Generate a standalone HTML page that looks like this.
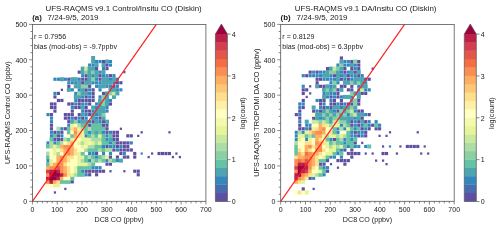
<!DOCTYPE html>
<html><head><meta charset="utf-8"><style>
html,body{margin:0;padding:0;background:#fff;}
svg{display:block;}
text{font-family:"Liberation Sans",sans-serif;fill:#1a1a1a;}
svg{will-change:transform;}
.tt{font-size:7.9px;}
.tl{font-size:7.0px;}
.an{font-size:7.1px;}
.at{font-size:7.15px;}
</style></head><body>
<svg width="500" height="229" viewBox="0 0 500 229">
<rect width="500" height="229" fill="#fff"/>
<g><rect x="46.03" y="183.36" width="3.97" height="4.04" fill="#ffffbf"/><rect x="46.03" y="179.82" width="3.97" height="4.04" fill="#f98e52"/><rect x="46.03" y="176.28" width="3.97" height="4.04" fill="#ba2048"/><rect x="46.03" y="172.75" width="3.97" height="4.04" fill="#f98e52"/><rect x="46.03" y="169.21" width="3.97" height="4.04" fill="#d53e4f"/><rect x="46.03" y="165.67" width="3.97" height="4.04" fill="#fdae61"/><rect x="46.03" y="162.13" width="3.97" height="4.04" fill="#66c2a5"/><rect x="46.45" y="159.02" width="3.12" height="3.18" fill="#3288bd"/><rect x="46.03" y="155.06" width="3.97" height="4.04" fill="#66c2a5"/><rect x="46.03" y="151.52" width="3.97" height="4.04" fill="#abdda4"/><rect x="46.03" y="144.44" width="3.97" height="4.04" fill="#66c2a5"/><rect x="46.45" y="141.33" width="3.12" height="3.18" fill="#3288bd"/><rect x="46.45" y="113.03" width="3.12" height="3.18" fill="#3288bd"/><rect x="49.50" y="183.36" width="3.97" height="4.04" fill="#ffffbf"/><rect x="49.50" y="179.82" width="3.97" height="4.04" fill="#ba2048"/><rect x="49.50" y="176.28" width="3.97" height="4.04" fill="#9e0142"/><rect x="49.50" y="172.75" width="3.97" height="4.04" fill="#9e0142"/><rect x="49.50" y="169.21" width="3.97" height="4.04" fill="#ba2048"/><rect x="49.50" y="165.67" width="3.97" height="4.04" fill="#f98e52"/><rect x="49.50" y="162.13" width="3.97" height="4.04" fill="#fee08b"/><rect x="49.50" y="158.59" width="3.97" height="4.04" fill="#e6f598"/><rect x="49.50" y="155.06" width="3.97" height="4.04" fill="#ffffbf"/><rect x="49.50" y="151.52" width="3.97" height="4.04" fill="#ffffbf"/><rect x="49.50" y="147.98" width="3.97" height="4.04" fill="#ffffbf"/><rect x="49.50" y="144.44" width="3.97" height="4.04" fill="#abdda4"/><rect x="49.50" y="140.90" width="3.97" height="4.04" fill="#abdda4"/><rect x="49.50" y="137.37" width="3.97" height="4.04" fill="#66c2a5"/><rect x="49.92" y="134.25" width="3.12" height="3.18" fill="#3288bd"/><rect x="49.92" y="130.72" width="3.12" height="3.18" fill="#3288bd"/><rect x="49.92" y="127.18" width="3.12" height="3.18" fill="#5e4fa2"/><rect x="49.92" y="123.64" width="3.12" height="3.18" fill="#5e4fa2"/><rect x="49.92" y="120.10" width="3.12" height="3.18" fill="#3288bd"/><rect x="49.92" y="116.56" width="3.12" height="3.18" fill="#3288bd"/><rect x="49.92" y="113.03" width="3.12" height="3.18" fill="#5e4fa2"/><rect x="49.92" y="105.95" width="3.12" height="3.18" fill="#5e4fa2"/><rect x="49.92" y="102.41" width="3.12" height="3.18" fill="#5e4fa2"/><rect x="53.85" y="191.31" width="2.20" height="2.30" fill="#5e4fa2"/><rect x="52.97" y="183.36" width="3.97" height="4.04" fill="#e6f598"/><rect x="52.97" y="179.82" width="3.97" height="4.04" fill="#fdae61"/><rect x="52.97" y="176.28" width="3.97" height="4.04" fill="#9e0142"/><rect x="52.97" y="172.75" width="3.97" height="4.04" fill="#9e0142"/><rect x="52.97" y="169.21" width="3.97" height="4.04" fill="#9e0142"/><rect x="52.97" y="165.67" width="3.97" height="4.04" fill="#f98e52"/><rect x="52.97" y="162.13" width="3.97" height="4.04" fill="#fdae61"/><rect x="52.97" y="158.59" width="3.97" height="4.04" fill="#ffffbf"/><rect x="52.97" y="155.06" width="3.97" height="4.04" fill="#ffffbf"/><rect x="52.97" y="151.52" width="3.97" height="4.04" fill="#e6f598"/><rect x="52.97" y="147.98" width="3.97" height="4.04" fill="#e6f598"/><rect x="52.97" y="144.44" width="3.97" height="4.04" fill="#e6f598"/><rect x="53.39" y="141.33" width="3.12" height="3.18" fill="#3288bd"/><rect x="53.39" y="137.79" width="3.12" height="3.18" fill="#5e4fa2"/><rect x="52.97" y="133.83" width="3.97" height="4.04" fill="#66c2a5"/><rect x="53.39" y="130.72" width="3.12" height="3.18" fill="#5e4fa2"/><rect x="53.39" y="109.49" width="3.12" height="3.18" fill="#5e4fa2"/><rect x="53.39" y="105.95" width="3.12" height="3.18" fill="#5e4fa2"/><rect x="53.39" y="102.41" width="3.12" height="3.18" fill="#5e4fa2"/><rect x="53.39" y="95.34" width="3.12" height="3.18" fill="#5e4fa2"/><rect x="53.39" y="91.80" width="3.12" height="3.18" fill="#3288bd"/><rect x="53.39" y="77.65" width="3.12" height="3.18" fill="#3288bd"/><rect x="56.44" y="183.36" width="3.97" height="4.04" fill="#e6f598"/><rect x="56.44" y="179.82" width="3.97" height="4.04" fill="#fee08b"/><rect x="56.44" y="176.28" width="3.97" height="4.04" fill="#ba2048"/><rect x="56.44" y="172.75" width="3.97" height="4.04" fill="#9e0142"/><rect x="56.44" y="169.21" width="3.97" height="4.04" fill="#ba2048"/><rect x="56.44" y="165.67" width="3.97" height="4.04" fill="#e45649"/><rect x="56.44" y="162.13" width="3.97" height="4.04" fill="#f98e52"/><rect x="56.44" y="158.59" width="3.97" height="4.04" fill="#fdae61"/><rect x="56.44" y="155.06" width="3.97" height="4.04" fill="#fdae61"/><rect x="56.44" y="151.52" width="3.97" height="4.04" fill="#abdda4"/><rect x="56.44" y="147.98" width="3.97" height="4.04" fill="#ffffbf"/><rect x="56.44" y="144.44" width="3.97" height="4.04" fill="#abdda4"/><rect x="56.44" y="140.90" width="3.97" height="4.04" fill="#66c2a5"/><rect x="56.86" y="137.79" width="3.12" height="3.18" fill="#5e4fa2"/><rect x="56.86" y="134.25" width="3.12" height="3.18" fill="#5e4fa2"/><rect x="56.86" y="130.72" width="3.12" height="3.18" fill="#3288bd"/><rect x="56.44" y="126.75" width="3.97" height="4.04" fill="#abdda4"/><rect x="56.86" y="98.87" width="3.12" height="3.18" fill="#5e4fa2"/><rect x="56.86" y="91.80" width="3.12" height="3.18" fill="#5e4fa2"/><rect x="56.86" y="77.65" width="3.12" height="3.18" fill="#3288bd"/><rect x="59.91" y="179.82" width="3.97" height="4.04" fill="#66c2a5"/><rect x="59.91" y="176.28" width="3.97" height="4.04" fill="#fdae61"/><rect x="59.91" y="172.75" width="3.97" height="4.04" fill="#ba2048"/><rect x="59.91" y="169.21" width="3.97" height="4.04" fill="#f98e52"/><rect x="59.91" y="165.67" width="3.97" height="4.04" fill="#f98e52"/><rect x="59.91" y="162.13" width="3.97" height="4.04" fill="#f98e52"/><rect x="59.91" y="158.59" width="3.97" height="4.04" fill="#f98e52"/><rect x="59.91" y="155.06" width="3.97" height="4.04" fill="#f98e52"/><rect x="59.91" y="151.52" width="3.97" height="4.04" fill="#ffffbf"/><rect x="59.91" y="147.98" width="3.97" height="4.04" fill="#fee08b"/><rect x="59.91" y="144.44" width="3.97" height="4.04" fill="#fdae61"/><rect x="59.91" y="140.90" width="3.97" height="4.04" fill="#abdda4"/><rect x="60.33" y="137.79" width="3.12" height="3.18" fill="#5e4fa2"/><rect x="60.33" y="134.25" width="3.12" height="3.18" fill="#3288bd"/><rect x="60.33" y="130.72" width="3.12" height="3.18" fill="#5e4fa2"/><rect x="60.33" y="127.18" width="3.12" height="3.18" fill="#3288bd"/><rect x="60.33" y="98.87" width="3.12" height="3.18" fill="#5e4fa2"/><rect x="60.79" y="88.70" width="2.20" height="2.30" fill="#5e4fa2"/><rect x="59.91" y="77.22" width="3.97" height="4.04" fill="#4ca5b1"/><rect x="64.27" y="187.77" width="2.20" height="2.30" fill="#5e4fa2"/><rect x="63.38" y="179.82" width="3.97" height="4.04" fill="#66c2a5"/><rect x="63.38" y="176.28" width="3.97" height="4.04" fill="#ffffbf"/><rect x="63.38" y="172.75" width="3.97" height="4.04" fill="#f98e52"/><rect x="63.38" y="169.21" width="3.97" height="4.04" fill="#fdae61"/><rect x="63.38" y="165.67" width="3.97" height="4.04" fill="#fdae61"/><rect x="63.38" y="162.13" width="3.97" height="4.04" fill="#fee08b"/><rect x="63.38" y="158.59" width="3.97" height="4.04" fill="#fdae61"/><rect x="63.38" y="155.06" width="3.97" height="4.04" fill="#fdae61"/><rect x="63.38" y="151.52" width="3.97" height="4.04" fill="#fdae61"/><rect x="63.38" y="147.98" width="3.97" height="4.04" fill="#fdae61"/><rect x="63.38" y="144.44" width="3.97" height="4.04" fill="#f98e52"/><rect x="63.38" y="140.90" width="3.97" height="4.04" fill="#ffffbf"/><rect x="63.38" y="137.37" width="3.97" height="4.04" fill="#abdda4"/><rect x="63.80" y="127.18" width="3.12" height="3.18" fill="#5e4fa2"/><rect x="63.80" y="116.56" width="3.12" height="3.18" fill="#5e4fa2"/><rect x="63.80" y="113.03" width="3.12" height="3.18" fill="#5e4fa2"/><rect x="63.80" y="77.65" width="3.12" height="3.18" fill="#3288bd"/><rect x="66.85" y="179.82" width="3.97" height="4.04" fill="#66c2a5"/><rect x="66.85" y="176.28" width="3.97" height="4.04" fill="#ffffbf"/><rect x="66.85" y="172.75" width="3.97" height="4.04" fill="#fee08b"/><rect x="66.85" y="169.21" width="3.97" height="4.04" fill="#fee08b"/><rect x="66.85" y="165.67" width="3.97" height="4.04" fill="#fee08b"/><rect x="66.85" y="162.13" width="3.97" height="4.04" fill="#ffffbf"/><rect x="66.85" y="158.59" width="3.97" height="4.04" fill="#fee08b"/><rect x="66.85" y="155.06" width="3.97" height="4.04" fill="#fee08b"/><rect x="66.85" y="151.52" width="3.97" height="4.04" fill="#f98e52"/><rect x="66.85" y="147.98" width="3.97" height="4.04" fill="#f98e52"/><rect x="66.85" y="144.44" width="3.97" height="4.04" fill="#f98e52"/><rect x="66.85" y="140.90" width="3.97" height="4.04" fill="#fee08b"/><rect x="66.85" y="137.37" width="3.97" height="4.04" fill="#66c2a5"/><rect x="66.85" y="133.83" width="3.97" height="4.04" fill="#ffffbf"/><rect x="66.85" y="130.29" width="3.97" height="4.04" fill="#66c2a5"/><rect x="66.85" y="126.75" width="3.97" height="4.04" fill="#66c2a5"/><rect x="67.27" y="123.64" width="3.12" height="3.18" fill="#3288bd"/><rect x="67.27" y="120.10" width="3.12" height="3.18" fill="#5e4fa2"/><rect x="67.27" y="116.56" width="3.12" height="3.18" fill="#5e4fa2"/><rect x="67.27" y="113.03" width="3.12" height="3.18" fill="#5e4fa2"/><rect x="67.27" y="102.41" width="3.12" height="3.18" fill="#5e4fa2"/><rect x="66.85" y="87.83" width="3.97" height="4.04" fill="#4ca5b1"/><rect x="67.27" y="84.72" width="3.12" height="3.18" fill="#5e4fa2"/><rect x="67.27" y="81.18" width="3.12" height="3.18" fill="#3288bd"/><rect x="67.27" y="77.65" width="3.12" height="3.18" fill="#5e4fa2"/><rect x="70.74" y="180.25" width="3.12" height="3.18" fill="#5e4fa2"/><rect x="70.32" y="176.28" width="3.97" height="4.04" fill="#66c2a5"/><rect x="70.32" y="172.75" width="3.97" height="4.04" fill="#e6f598"/><rect x="70.32" y="169.21" width="3.97" height="4.04" fill="#ffffbf"/><rect x="70.32" y="165.67" width="3.97" height="4.04" fill="#ffffbf"/><rect x="70.32" y="162.13" width="3.97" height="4.04" fill="#ffffbf"/><rect x="70.32" y="158.59" width="3.97" height="4.04" fill="#ffffbf"/><rect x="70.32" y="155.06" width="3.97" height="4.04" fill="#fee08b"/><rect x="70.32" y="151.52" width="3.97" height="4.04" fill="#fdae61"/><rect x="70.32" y="147.98" width="3.97" height="4.04" fill="#fdae61"/><rect x="70.32" y="144.44" width="3.97" height="4.04" fill="#fdae61"/><rect x="70.32" y="140.90" width="3.97" height="4.04" fill="#fdae61"/><rect x="70.32" y="137.37" width="3.97" height="4.04" fill="#e6f598"/><rect x="70.32" y="133.83" width="3.97" height="4.04" fill="#66c2a5"/><rect x="70.32" y="130.29" width="3.97" height="4.04" fill="#ffffbf"/><rect x="70.32" y="126.75" width="3.97" height="4.04" fill="#fee08b"/><rect x="70.32" y="123.21" width="3.97" height="4.04" fill="#e6f598"/><rect x="70.32" y="119.68" width="3.97" height="4.04" fill="#4ca5b1"/><rect x="70.74" y="116.56" width="3.12" height="3.18" fill="#3288bd"/><rect x="70.74" y="113.03" width="3.12" height="3.18" fill="#5e4fa2"/><rect x="70.74" y="109.49" width="3.12" height="3.18" fill="#5e4fa2"/><rect x="70.74" y="105.95" width="3.12" height="3.18" fill="#3288bd"/><rect x="70.74" y="102.41" width="3.12" height="3.18" fill="#5e4fa2"/><rect x="70.74" y="88.26" width="3.12" height="3.18" fill="#3288bd"/><rect x="70.74" y="81.18" width="3.12" height="3.18" fill="#3288bd"/><rect x="70.32" y="77.22" width="3.97" height="4.04" fill="#4ca5b1"/><rect x="73.79" y="172.75" width="3.97" height="4.04" fill="#abdda4"/><rect x="73.79" y="169.21" width="3.97" height="4.04" fill="#e6f598"/><rect x="73.79" y="165.67" width="3.97" height="4.04" fill="#e6f598"/><rect x="73.79" y="162.13" width="3.97" height="4.04" fill="#ffffbf"/><rect x="73.79" y="158.59" width="3.97" height="4.04" fill="#ffffbf"/><rect x="73.79" y="155.06" width="3.97" height="4.04" fill="#ffffbf"/><rect x="73.79" y="151.52" width="3.97" height="4.04" fill="#fee08b"/><rect x="73.79" y="147.98" width="3.97" height="4.04" fill="#fee08b"/><rect x="73.79" y="144.44" width="3.97" height="4.04" fill="#ffffbf"/><rect x="73.79" y="140.90" width="3.97" height="4.04" fill="#ffffbf"/><rect x="73.79" y="137.37" width="3.97" height="4.04" fill="#fee08b"/><rect x="73.79" y="133.83" width="3.97" height="4.04" fill="#fdae61"/><rect x="73.79" y="130.29" width="3.97" height="4.04" fill="#f98e52"/><rect x="73.79" y="126.75" width="3.97" height="4.04" fill="#fdae61"/><rect x="73.79" y="123.21" width="3.97" height="4.04" fill="#ffffbf"/><rect x="73.79" y="119.68" width="3.97" height="4.04" fill="#89d0a4"/><rect x="74.21" y="116.56" width="3.12" height="3.18" fill="#5e4fa2"/><rect x="74.21" y="105.95" width="3.12" height="3.18" fill="#5e4fa2"/><rect x="74.21" y="102.41" width="3.12" height="3.18" fill="#3288bd"/><rect x="74.21" y="98.87" width="3.12" height="3.18" fill="#3288bd"/><rect x="73.79" y="94.91" width="3.97" height="4.04" fill="#4ca5b1"/><rect x="74.21" y="91.80" width="3.12" height="3.18" fill="#3288bd"/><rect x="73.79" y="84.30" width="3.97" height="4.04" fill="#4ca5b1"/><rect x="74.21" y="81.18" width="3.12" height="3.18" fill="#3288bd"/><rect x="73.79" y="77.22" width="3.97" height="4.04" fill="#4ca5b1"/><rect x="77.26" y="172.75" width="3.97" height="4.04" fill="#66c2a5"/><rect x="77.26" y="169.21" width="3.97" height="4.04" fill="#66c2a5"/><rect x="77.26" y="165.67" width="3.97" height="4.04" fill="#66c2a5"/><rect x="77.26" y="162.13" width="3.97" height="4.04" fill="#e6f598"/><rect x="77.26" y="158.59" width="3.97" height="4.04" fill="#e6f598"/><rect x="77.26" y="155.06" width="3.97" height="4.04" fill="#e6f598"/><rect x="77.26" y="151.52" width="3.97" height="4.04" fill="#e6f598"/><rect x="77.26" y="147.98" width="3.97" height="4.04" fill="#ffffbf"/><rect x="77.26" y="144.44" width="3.97" height="4.04" fill="#ffffbf"/><rect x="77.26" y="140.90" width="3.97" height="4.04" fill="#e6f598"/><rect x="77.26" y="137.37" width="3.97" height="4.04" fill="#ffffbf"/><rect x="77.26" y="133.83" width="3.97" height="4.04" fill="#fee08b"/><rect x="77.26" y="130.29" width="3.97" height="4.04" fill="#fee08b"/><rect x="77.26" y="126.75" width="3.97" height="4.04" fill="#e6f598"/><rect x="77.26" y="123.21" width="3.97" height="4.04" fill="#abdda4"/><rect x="77.68" y="120.10" width="3.12" height="3.18" fill="#3288bd"/><rect x="77.68" y="116.56" width="3.12" height="3.18" fill="#3288bd"/><rect x="77.68" y="113.03" width="3.12" height="3.18" fill="#5e4fa2"/><rect x="77.68" y="105.95" width="3.12" height="3.18" fill="#5e4fa2"/><rect x="77.68" y="102.41" width="3.12" height="3.18" fill="#5e4fa2"/><rect x="77.68" y="98.87" width="3.12" height="3.18" fill="#5e4fa2"/><rect x="77.26" y="94.91" width="3.97" height="4.04" fill="#4ca5b1"/><rect x="77.26" y="91.37" width="3.97" height="4.04" fill="#89d0a4"/><rect x="77.68" y="88.26" width="3.12" height="3.18" fill="#3288bd"/><rect x="77.26" y="84.30" width="3.97" height="4.04" fill="#4ca5b1"/><rect x="77.26" y="80.76" width="3.97" height="4.04" fill="#4ca5b1"/><rect x="77.68" y="77.65" width="3.12" height="3.18" fill="#3288bd"/><rect x="77.68" y="70.57" width="3.12" height="3.18" fill="#5e4fa2"/><rect x="80.73" y="172.75" width="3.97" height="4.04" fill="#66c2a5"/><rect x="81.15" y="169.63" width="3.12" height="3.18" fill="#3288bd"/><rect x="80.73" y="165.67" width="3.97" height="4.04" fill="#66c2a5"/><rect x="80.73" y="162.13" width="3.97" height="4.04" fill="#e6f598"/><rect x="80.73" y="158.59" width="3.97" height="4.04" fill="#abdda4"/><rect x="80.73" y="155.06" width="3.97" height="4.04" fill="#e6f598"/><rect x="80.73" y="151.52" width="3.97" height="4.04" fill="#66c2a5"/><rect x="80.73" y="147.98" width="3.97" height="4.04" fill="#ffffbf"/><rect x="80.73" y="144.44" width="3.97" height="4.04" fill="#e6f598"/><rect x="80.73" y="140.90" width="3.97" height="4.04" fill="#abdda4"/><rect x="80.73" y="137.37" width="3.97" height="4.04" fill="#e6f598"/><rect x="80.73" y="133.83" width="3.97" height="4.04" fill="#e6f598"/><rect x="80.73" y="130.29" width="3.97" height="4.04" fill="#e6f598"/><rect x="80.73" y="126.75" width="3.97" height="4.04" fill="#abdda4"/><rect x="80.73" y="123.21" width="3.97" height="4.04" fill="#66c2a5"/><rect x="80.73" y="119.68" width="3.97" height="4.04" fill="#4ca5b1"/><rect x="81.15" y="116.56" width="3.12" height="3.18" fill="#5e4fa2"/><rect x="80.73" y="112.60" width="3.97" height="4.04" fill="#4ca5b1"/><rect x="81.15" y="109.49" width="3.12" height="3.18" fill="#3288bd"/><rect x="80.73" y="105.52" width="3.97" height="4.04" fill="#4ca5b1"/><rect x="81.15" y="102.41" width="3.12" height="3.18" fill="#3288bd"/><rect x="81.15" y="98.87" width="3.12" height="3.18" fill="#5e4fa2"/><rect x="81.15" y="95.34" width="3.12" height="3.18" fill="#3288bd"/><rect x="80.73" y="91.37" width="3.97" height="4.04" fill="#4ca5b1"/><rect x="80.73" y="87.83" width="3.97" height="4.04" fill="#4ca5b1"/><rect x="80.73" y="84.30" width="3.97" height="4.04" fill="#89d0a4"/><rect x="81.15" y="81.18" width="3.12" height="3.18" fill="#5e4fa2"/><rect x="81.15" y="77.65" width="3.12" height="3.18" fill="#5e4fa2"/><rect x="81.15" y="74.11" width="3.12" height="3.18" fill="#3288bd"/><rect x="80.73" y="70.14" width="3.97" height="4.04" fill="#4ca5b1"/><rect x="80.73" y="66.61" width="3.97" height="4.04" fill="#4ca5b1"/><rect x="84.62" y="173.17" width="3.12" height="3.18" fill="#3288bd"/><rect x="84.62" y="169.63" width="3.12" height="3.18" fill="#5e4fa2"/><rect x="84.20" y="165.67" width="3.97" height="4.04" fill="#66c2a5"/><rect x="84.20" y="162.13" width="3.97" height="4.04" fill="#e6f598"/><rect x="84.20" y="158.59" width="3.97" height="4.04" fill="#66c2a5"/><rect x="84.20" y="155.06" width="3.97" height="4.04" fill="#66c2a5"/><rect x="84.20" y="147.98" width="3.97" height="4.04" fill="#abdda4"/><rect x="84.20" y="144.44" width="3.97" height="4.04" fill="#f3faac"/><rect x="84.20" y="140.90" width="3.97" height="4.04" fill="#e6f598"/><rect x="84.20" y="137.37" width="3.97" height="4.04" fill="#e6f598"/><rect x="84.62" y="134.25" width="3.12" height="3.18" fill="#3288bd"/><rect x="84.20" y="130.29" width="3.97" height="4.04" fill="#66c2a5"/><rect x="84.20" y="126.75" width="3.97" height="4.04" fill="#66c2a5"/><rect x="84.20" y="123.21" width="3.97" height="4.04" fill="#66c2a5"/><rect x="84.20" y="119.68" width="3.97" height="4.04" fill="#4ca5b1"/><rect x="84.62" y="116.56" width="3.12" height="3.18" fill="#3288bd"/><rect x="84.62" y="113.03" width="3.12" height="3.18" fill="#3288bd"/><rect x="84.62" y="109.49" width="3.12" height="3.18" fill="#5e4fa2"/><rect x="84.62" y="105.95" width="3.12" height="3.18" fill="#5e4fa2"/><rect x="84.62" y="102.41" width="3.12" height="3.18" fill="#3288bd"/><rect x="84.62" y="98.87" width="3.12" height="3.18" fill="#5e4fa2"/><rect x="84.62" y="95.34" width="3.12" height="3.18" fill="#5e4fa2"/><rect x="84.20" y="91.37" width="3.97" height="4.04" fill="#4ca5b1"/><rect x="84.62" y="88.26" width="3.12" height="3.18" fill="#5e4fa2"/><rect x="84.20" y="84.30" width="3.97" height="4.04" fill="#89d0a4"/><rect x="84.20" y="80.76" width="3.97" height="4.04" fill="#4ca5b1"/><rect x="84.62" y="77.65" width="3.12" height="3.18" fill="#5e4fa2"/><rect x="84.62" y="74.11" width="3.12" height="3.18" fill="#5e4fa2"/><rect x="84.20" y="70.14" width="3.97" height="4.04" fill="#89d0a4"/><rect x="84.20" y="66.61" width="3.97" height="4.04" fill="#c9e99e"/><rect x="88.09" y="173.17" width="3.12" height="3.18" fill="#5e4fa2"/><rect x="88.09" y="169.63" width="3.12" height="3.18" fill="#5e4fa2"/><rect x="87.67" y="165.67" width="3.97" height="4.04" fill="#66c2a5"/><rect x="87.67" y="162.13" width="3.97" height="4.04" fill="#abdda4"/><rect x="88.09" y="159.02" width="3.12" height="3.18" fill="#3288bd"/><rect x="87.67" y="155.06" width="3.97" height="4.04" fill="#abdda4"/><rect x="88.09" y="151.94" width="3.12" height="3.18" fill="#3288bd"/><rect x="87.67" y="147.98" width="3.97" height="4.04" fill="#66c2a5"/><rect x="87.67" y="144.44" width="3.97" height="4.04" fill="#abdda4"/><rect x="87.67" y="140.90" width="3.97" height="4.04" fill="#f3faac"/><rect x="87.67" y="137.37" width="3.97" height="4.04" fill="#e6f598"/><rect x="87.67" y="133.83" width="3.97" height="4.04" fill="#66c2a5"/><rect x="88.09" y="130.72" width="3.12" height="3.18" fill="#3288bd"/><rect x="87.67" y="126.75" width="3.97" height="4.04" fill="#abdda4"/><rect x="88.09" y="123.64" width="3.12" height="3.18" fill="#5e4fa2"/><rect x="88.09" y="120.10" width="3.12" height="3.18" fill="#3288bd"/><rect x="88.09" y="113.03" width="3.12" height="3.18" fill="#5e4fa2"/><rect x="88.09" y="109.49" width="3.12" height="3.18" fill="#5e4fa2"/><rect x="88.09" y="102.41" width="3.12" height="3.18" fill="#5e4fa2"/><rect x="88.09" y="98.87" width="3.12" height="3.18" fill="#5e4fa2"/><rect x="88.09" y="95.34" width="3.12" height="3.18" fill="#3288bd"/><rect x="88.09" y="91.80" width="3.12" height="3.18" fill="#3288bd"/><rect x="88.09" y="88.26" width="3.12" height="3.18" fill="#3288bd"/><rect x="88.09" y="84.72" width="3.12" height="3.18" fill="#5e4fa2"/><rect x="87.67" y="80.76" width="3.97" height="4.04" fill="#4ca5b1"/><rect x="87.67" y="77.22" width="3.97" height="4.04" fill="#4ca5b1"/><rect x="87.67" y="73.68" width="3.97" height="4.04" fill="#4ca5b1"/><rect x="87.67" y="70.14" width="3.97" height="4.04" fill="#4ca5b1"/><rect x="87.67" y="66.61" width="3.97" height="4.04" fill="#4ca5b1"/><rect x="88.09" y="63.49" width="3.12" height="3.18" fill="#3288bd"/><rect x="91.56" y="169.63" width="3.12" height="3.18" fill="#5e4fa2"/><rect x="91.56" y="166.10" width="3.12" height="3.18" fill="#3288bd"/><rect x="91.14" y="162.13" width="3.97" height="4.04" fill="#66c2a5"/><rect x="91.14" y="158.59" width="3.97" height="4.04" fill="#abdda4"/><rect x="91.14" y="155.06" width="3.97" height="4.04" fill="#66c2a5"/><rect x="91.56" y="151.94" width="3.12" height="3.18" fill="#3288bd"/><rect x="91.14" y="147.98" width="3.97" height="4.04" fill="#66c2a5"/><rect x="91.14" y="144.44" width="3.97" height="4.04" fill="#abdda4"/><rect x="91.14" y="140.90" width="3.97" height="4.04" fill="#e6f598"/><rect x="91.14" y="137.37" width="3.97" height="4.04" fill="#abdda4"/><rect x="91.14" y="133.83" width="3.97" height="4.04" fill="#abdda4"/><rect x="91.14" y="130.29" width="3.97" height="4.04" fill="#66c2a5"/><rect x="91.14" y="126.75" width="3.97" height="4.04" fill="#66c2a5"/><rect x="91.14" y="123.21" width="3.97" height="4.04" fill="#66c2a5"/><rect x="91.56" y="120.10" width="3.12" height="3.18" fill="#5e4fa2"/><rect x="91.14" y="116.14" width="3.97" height="4.04" fill="#4ca5b1"/><rect x="91.14" y="112.60" width="3.97" height="4.04" fill="#4ca5b1"/><rect x="91.56" y="109.49" width="3.12" height="3.18" fill="#3288bd"/><rect x="91.14" y="105.52" width="3.97" height="4.04" fill="#4ca5b1"/><rect x="91.56" y="98.87" width="3.12" height="3.18" fill="#5e4fa2"/><rect x="91.56" y="95.34" width="3.12" height="3.18" fill="#5e4fa2"/><rect x="91.56" y="91.80" width="3.12" height="3.18" fill="#5e4fa2"/><rect x="91.56" y="88.26" width="3.12" height="3.18" fill="#5e4fa2"/><rect x="91.56" y="81.18" width="3.12" height="3.18" fill="#3288bd"/><rect x="91.14" y="77.22" width="3.97" height="4.04" fill="#89d0a4"/><rect x="91.56" y="74.11" width="3.12" height="3.18" fill="#3288bd"/><rect x="91.14" y="70.14" width="3.97" height="4.04" fill="#89d0a4"/><rect x="91.14" y="66.61" width="3.97" height="4.04" fill="#4ca5b1"/><rect x="91.56" y="63.49" width="3.12" height="3.18" fill="#3288bd"/><rect x="91.14" y="59.53" width="3.97" height="4.04" fill="#4ca5b1"/><rect x="91.14" y="55.99" width="3.97" height="4.04" fill="#4ca5b1"/><rect x="95.03" y="173.17" width="3.12" height="3.18" fill="#5e4fa2"/><rect x="95.03" y="169.63" width="3.12" height="3.18" fill="#5e4fa2"/><rect x="95.03" y="166.10" width="3.12" height="3.18" fill="#3288bd"/><rect x="94.61" y="158.59" width="3.97" height="4.04" fill="#66c2a5"/><rect x="95.03" y="155.48" width="3.12" height="3.18" fill="#3288bd"/><rect x="95.03" y="151.94" width="3.12" height="3.18" fill="#5e4fa2"/><rect x="94.61" y="147.98" width="3.97" height="4.04" fill="#66c2a5"/><rect x="94.61" y="144.44" width="3.97" height="4.04" fill="#66c2a5"/><rect x="94.61" y="140.90" width="3.97" height="4.04" fill="#abdda4"/><rect x="94.61" y="137.37" width="3.97" height="4.04" fill="#abdda4"/><rect x="94.61" y="133.83" width="3.97" height="4.04" fill="#66c2a5"/><rect x="94.61" y="130.29" width="3.97" height="4.04" fill="#4ca5b1"/><rect x="94.61" y="126.75" width="3.97" height="4.04" fill="#66c2a5"/><rect x="94.61" y="123.21" width="3.97" height="4.04" fill="#66c2a5"/><rect x="94.61" y="119.68" width="3.97" height="4.04" fill="#4ca5b1"/><rect x="95.03" y="116.56" width="3.12" height="3.18" fill="#3288bd"/><rect x="95.03" y="113.03" width="3.12" height="3.18" fill="#3288bd"/><rect x="94.61" y="109.06" width="3.97" height="4.04" fill="#4ca5b1"/><rect x="95.03" y="105.95" width="3.12" height="3.18" fill="#3288bd"/><rect x="95.03" y="102.41" width="3.12" height="3.18" fill="#3288bd"/><rect x="95.03" y="84.72" width="3.12" height="3.18" fill="#3288bd"/><rect x="95.03" y="81.18" width="3.12" height="3.18" fill="#3288bd"/><rect x="95.03" y="77.65" width="3.12" height="3.18" fill="#3288bd"/><rect x="94.61" y="73.68" width="3.97" height="4.04" fill="#4ca5b1"/><rect x="94.61" y="70.14" width="3.97" height="4.04" fill="#4ca5b1"/><rect x="95.03" y="67.03" width="3.12" height="3.18" fill="#5e4fa2"/><rect x="94.61" y="63.07" width="3.97" height="4.04" fill="#4ca5b1"/><rect x="95.03" y="59.96" width="3.12" height="3.18" fill="#3288bd"/><rect x="98.50" y="169.63" width="3.12" height="3.18" fill="#5e4fa2"/><rect x="98.50" y="166.10" width="3.12" height="3.18" fill="#3288bd"/><rect x="98.08" y="158.59" width="3.97" height="4.04" fill="#abdda4"/><rect x="98.08" y="155.06" width="3.97" height="4.04" fill="#66c2a5"/><rect x="98.08" y="147.98" width="3.97" height="4.04" fill="#abdda4"/><rect x="98.08" y="144.44" width="3.97" height="4.04" fill="#66c2a5"/><rect x="98.08" y="140.90" width="3.97" height="4.04" fill="#e6f598"/><rect x="98.08" y="137.37" width="3.97" height="4.04" fill="#abdda4"/><rect x="98.08" y="133.83" width="3.97" height="4.04" fill="#e6f598"/><rect x="98.08" y="130.29" width="3.97" height="4.04" fill="#66c2a5"/><rect x="98.08" y="126.75" width="3.97" height="4.04" fill="#66c2a5"/><rect x="98.08" y="123.21" width="3.97" height="4.04" fill="#66c2a5"/><rect x="98.50" y="120.10" width="3.12" height="3.18" fill="#3288bd"/><rect x="98.50" y="116.56" width="3.12" height="3.18" fill="#5e4fa2"/><rect x="98.08" y="112.60" width="3.97" height="4.04" fill="#4ca5b1"/><rect x="98.08" y="109.06" width="3.97" height="4.04" fill="#4ca5b1"/><rect x="98.08" y="105.52" width="3.97" height="4.04" fill="#4ca5b1"/><rect x="98.08" y="101.99" width="3.97" height="4.04" fill="#4ca5b1"/><rect x="98.08" y="98.45" width="3.97" height="4.04" fill="#4ca5b1"/><rect x="98.50" y="95.34" width="3.12" height="3.18" fill="#3288bd"/><rect x="98.50" y="88.26" width="3.12" height="3.18" fill="#3288bd"/><rect x="98.08" y="84.30" width="3.97" height="4.04" fill="#4ca5b1"/><rect x="98.50" y="81.18" width="3.12" height="3.18" fill="#3288bd"/><rect x="98.50" y="77.65" width="3.12" height="3.18" fill="#5e4fa2"/><rect x="98.50" y="74.11" width="3.12" height="3.18" fill="#5e4fa2"/><rect x="98.50" y="70.57" width="3.12" height="3.18" fill="#3288bd"/><rect x="98.50" y="59.96" width="3.12" height="3.18" fill="#3288bd"/><rect x="101.97" y="169.63" width="3.12" height="3.18" fill="#5e4fa2"/><rect x="101.55" y="158.59" width="3.97" height="4.04" fill="#66c2a5"/><rect x="101.55" y="155.06" width="3.97" height="4.04" fill="#abdda4"/><rect x="101.97" y="151.94" width="3.12" height="3.18" fill="#3288bd"/><rect x="101.55" y="147.98" width="3.97" height="4.04" fill="#66c2a5"/><rect x="101.97" y="144.87" width="3.12" height="3.18" fill="#3288bd"/><rect x="101.55" y="140.90" width="3.97" height="4.04" fill="#66c2a5"/><rect x="101.55" y="137.37" width="3.97" height="4.04" fill="#66c2a5"/><rect x="101.55" y="133.83" width="3.97" height="4.04" fill="#66c2a5"/><rect x="101.97" y="130.72" width="3.12" height="3.18" fill="#3288bd"/><rect x="101.55" y="126.75" width="3.97" height="4.04" fill="#66c2a5"/><rect x="101.97" y="123.64" width="3.12" height="3.18" fill="#5e4fa2"/><rect x="101.97" y="120.10" width="3.12" height="3.18" fill="#5e4fa2"/><rect x="101.55" y="116.14" width="3.97" height="4.04" fill="#4ca5b1"/><rect x="101.55" y="112.60" width="3.97" height="4.04" fill="#89d0a4"/><rect x="101.55" y="109.06" width="3.97" height="4.04" fill="#4ca5b1"/><rect x="101.55" y="105.52" width="3.97" height="4.04" fill="#4ca5b1"/><rect x="101.55" y="101.99" width="3.97" height="4.04" fill="#89d0a4"/><rect x="101.55" y="98.45" width="3.97" height="4.04" fill="#89d0a4"/><rect x="101.55" y="94.91" width="3.97" height="4.04" fill="#89d0a4"/><rect x="101.97" y="91.80" width="3.12" height="3.18" fill="#5e4fa2"/><rect x="101.55" y="84.30" width="3.97" height="4.04" fill="#4ca5b1"/><rect x="101.55" y="80.76" width="3.97" height="4.04" fill="#4ca5b1"/><rect x="101.55" y="77.22" width="3.97" height="4.04" fill="#4ca5b1"/><rect x="101.97" y="74.11" width="3.12" height="3.18" fill="#3288bd"/><rect x="101.55" y="70.14" width="3.97" height="4.04" fill="#4ca5b1"/><rect x="101.97" y="67.03" width="3.12" height="3.18" fill="#3288bd"/><rect x="101.55" y="63.07" width="3.97" height="4.04" fill="#4ca5b1"/><rect x="101.97" y="59.96" width="3.12" height="3.18" fill="#5e4fa2"/><rect x="105.44" y="162.56" width="3.12" height="3.18" fill="#5e4fa2"/><rect x="105.44" y="159.02" width="3.12" height="3.18" fill="#3288bd"/><rect x="105.02" y="155.06" width="3.97" height="4.04" fill="#e6f598"/><rect x="105.02" y="147.98" width="3.97" height="4.04" fill="#abdda4"/><rect x="105.44" y="144.87" width="3.12" height="3.18" fill="#5e4fa2"/><rect x="105.02" y="140.90" width="3.97" height="4.04" fill="#66c2a5"/><rect x="105.44" y="137.79" width="3.12" height="3.18" fill="#3288bd"/><rect x="105.44" y="134.25" width="3.12" height="3.18" fill="#3288bd"/><rect x="105.44" y="130.72" width="3.12" height="3.18" fill="#5e4fa2"/><rect x="105.44" y="127.18" width="3.12" height="3.18" fill="#5e4fa2"/><rect x="105.44" y="123.64" width="3.12" height="3.18" fill="#5e4fa2"/><rect x="105.02" y="119.68" width="3.97" height="4.04" fill="#4ca5b1"/><rect x="105.44" y="109.49" width="3.12" height="3.18" fill="#3288bd"/><rect x="105.44" y="105.95" width="3.12" height="3.18" fill="#3288bd"/><rect x="105.02" y="101.99" width="3.97" height="4.04" fill="#4ca5b1"/><rect x="105.02" y="98.45" width="3.97" height="4.04" fill="#4ca5b1"/><rect x="105.02" y="94.91" width="3.97" height="4.04" fill="#4ca5b1"/><rect x="105.02" y="91.37" width="3.97" height="4.04" fill="#4ca5b1"/><rect x="105.44" y="84.72" width="3.12" height="3.18" fill="#3288bd"/><rect x="105.02" y="80.76" width="3.97" height="4.04" fill="#4ca5b1"/><rect x="105.02" y="77.22" width="3.97" height="4.04" fill="#4ca5b1"/><rect x="105.44" y="74.11" width="3.12" height="3.18" fill="#3288bd"/><rect x="105.44" y="67.03" width="3.12" height="3.18" fill="#5e4fa2"/><rect x="105.44" y="63.49" width="3.12" height="3.18" fill="#5e4fa2"/><rect x="105.02" y="59.53" width="3.97" height="4.04" fill="#4ca5b1"/><rect x="109.38" y="170.08" width="2.20" height="2.30" fill="#5e4fa2"/><rect x="108.91" y="162.56" width="3.12" height="3.18" fill="#5e4fa2"/><rect x="108.49" y="158.59" width="3.97" height="4.04" fill="#abdda4"/><rect x="108.91" y="155.48" width="3.12" height="3.18" fill="#5e4fa2"/><rect x="108.91" y="151.94" width="3.12" height="3.18" fill="#3288bd"/><rect x="108.49" y="147.98" width="3.97" height="4.04" fill="#abdda4"/><rect x="108.91" y="144.87" width="3.12" height="3.18" fill="#3288bd"/><rect x="108.91" y="141.33" width="3.12" height="3.18" fill="#3288bd"/><rect x="108.49" y="137.37" width="3.97" height="4.04" fill="#4ca5b1"/><rect x="108.49" y="133.83" width="3.97" height="4.04" fill="#66c2a5"/><rect x="108.91" y="130.72" width="3.12" height="3.18" fill="#3288bd"/><rect x="108.91" y="102.41" width="3.12" height="3.18" fill="#5e4fa2"/><rect x="108.91" y="98.87" width="3.12" height="3.18" fill="#3288bd"/><rect x="108.49" y="91.37" width="3.97" height="4.04" fill="#89d0a4"/><rect x="108.49" y="87.83" width="3.97" height="4.04" fill="#4ca5b1"/><rect x="108.91" y="84.72" width="3.12" height="3.18" fill="#3288bd"/><rect x="108.49" y="80.76" width="3.97" height="4.04" fill="#4ca5b1"/><rect x="108.91" y="77.65" width="3.12" height="3.18" fill="#3288bd"/><rect x="108.91" y="74.11" width="3.12" height="3.18" fill="#5e4fa2"/><rect x="108.91" y="63.49" width="3.12" height="3.18" fill="#3288bd"/><rect x="108.91" y="59.96" width="3.12" height="3.18" fill="#3288bd"/><rect x="111.96" y="158.59" width="3.97" height="4.04" fill="#66c2a5"/><rect x="112.38" y="148.41" width="3.12" height="3.18" fill="#5e4fa2"/><rect x="112.38" y="144.87" width="3.12" height="3.18" fill="#3288bd"/><rect x="111.96" y="140.90" width="3.97" height="4.04" fill="#66c2a5"/><rect x="112.38" y="137.79" width="3.12" height="3.18" fill="#5e4fa2"/><rect x="112.38" y="134.25" width="3.12" height="3.18" fill="#5e4fa2"/><rect x="112.38" y="130.72" width="3.12" height="3.18" fill="#5e4fa2"/><rect x="111.96" y="94.91" width="3.97" height="4.04" fill="#4ca5b1"/><rect x="111.96" y="91.37" width="3.97" height="4.04" fill="#c9e99e"/><rect x="111.96" y="87.83" width="3.97" height="4.04" fill="#4ca5b1"/><rect x="112.38" y="84.72" width="3.12" height="3.18" fill="#5e4fa2"/><rect x="112.38" y="81.18" width="3.12" height="3.18" fill="#3288bd"/><rect x="111.96" y="77.22" width="3.97" height="4.04" fill="#4ca5b1"/><rect x="112.38" y="74.11" width="3.12" height="3.18" fill="#3288bd"/><rect x="115.85" y="159.02" width="3.12" height="3.18" fill="#3288bd"/><rect x="115.85" y="155.48" width="3.12" height="3.18" fill="#5e4fa2"/><rect x="115.85" y="148.41" width="3.12" height="3.18" fill="#3288bd"/><rect x="115.85" y="144.87" width="3.12" height="3.18" fill="#5e4fa2"/><rect x="115.85" y="141.33" width="3.12" height="3.18" fill="#5e4fa2"/><rect x="115.85" y="137.79" width="3.12" height="3.18" fill="#5e4fa2"/><rect x="115.85" y="134.25" width="3.12" height="3.18" fill="#5e4fa2"/><rect x="115.85" y="130.72" width="3.12" height="3.18" fill="#5e4fa2"/><rect x="115.43" y="91.37" width="3.97" height="4.04" fill="#4ca5b1"/><rect x="115.85" y="88.26" width="3.12" height="3.18" fill="#3288bd"/><rect x="115.85" y="84.72" width="3.12" height="3.18" fill="#3288bd"/><rect x="115.85" y="81.18" width="3.12" height="3.18" fill="#5e4fa2"/><rect x="115.85" y="77.65" width="3.12" height="3.18" fill="#3288bd"/><rect x="118.90" y="158.59" width="3.97" height="4.04" fill="#4ca5b1"/><rect x="119.32" y="151.94" width="3.12" height="3.18" fill="#5e4fa2"/><rect x="119.32" y="148.41" width="3.12" height="3.18" fill="#5e4fa2"/><rect x="119.32" y="144.87" width="3.12" height="3.18" fill="#3288bd"/><rect x="119.32" y="141.33" width="3.12" height="3.18" fill="#5e4fa2"/><rect x="119.79" y="127.62" width="2.20" height="2.30" fill="#5e4fa2"/><rect x="119.32" y="88.26" width="3.12" height="3.18" fill="#3288bd"/><rect x="119.32" y="81.18" width="3.12" height="3.18" fill="#5e4fa2"/><rect x="123.26" y="170.08" width="2.20" height="2.30" fill="#5e4fa2"/><rect x="122.79" y="155.48" width="3.12" height="3.18" fill="#5e4fa2"/><rect x="122.79" y="151.94" width="3.12" height="3.18" fill="#3288bd"/><rect x="122.79" y="148.41" width="3.12" height="3.18" fill="#5e4fa2"/><rect x="122.79" y="144.87" width="3.12" height="3.18" fill="#5e4fa2"/><rect x="122.79" y="141.33" width="3.12" height="3.18" fill="#5e4fa2"/><rect x="123.26" y="71.01" width="2.20" height="2.30" fill="#5e4fa2"/><rect x="126.26" y="155.48" width="3.12" height="3.18" fill="#5e4fa2"/><rect x="126.26" y="148.41" width="3.12" height="3.18" fill="#5e4fa2"/><rect x="126.26" y="144.87" width="3.12" height="3.18" fill="#5e4fa2"/><rect x="126.26" y="141.33" width="3.12" height="3.18" fill="#5e4fa2"/><rect x="126.26" y="134.25" width="3.12" height="3.18" fill="#5e4fa2"/><rect x="129.73" y="148.41" width="3.12" height="3.18" fill="#5e4fa2"/><rect x="129.73" y="141.33" width="3.12" height="3.18" fill="#3288bd"/><rect x="129.73" y="134.25" width="3.12" height="3.18" fill="#5e4fa2"/><rect x="133.20" y="169.63" width="3.12" height="3.18" fill="#5e4fa2"/><rect x="133.20" y="155.48" width="3.12" height="3.18" fill="#5e4fa2"/><rect x="133.20" y="151.94" width="3.12" height="3.18" fill="#5e4fa2"/><rect x="136.67" y="173.17" width="3.12" height="3.18" fill="#5e4fa2"/><rect x="136.67" y="169.63" width="3.12" height="3.18" fill="#5e4fa2"/><rect x="137.13" y="134.70" width="2.20" height="2.30" fill="#5e4fa2"/><rect x="140.60" y="152.39" width="2.20" height="2.30" fill="#3288bd"/><rect x="140.60" y="131.16" width="2.20" height="2.30" fill="#5e4fa2"/><rect x="147.54" y="155.93" width="2.20" height="2.30" fill="#5e4fa2"/><rect x="151.01" y="152.39" width="2.20" height="2.30" fill="#5e4fa2"/><rect x="157.49" y="151.94" width="3.12" height="3.18" fill="#5e4fa2"/><rect x="160.96" y="151.94" width="3.12" height="3.18" fill="#5e4fa2"/><rect x="164.43" y="151.94" width="3.12" height="3.18" fill="#5e4fa2"/><rect x="167.90" y="151.94" width="3.12" height="3.18" fill="#5e4fa2"/><rect x="168.37" y="131.16" width="2.20" height="2.30" fill="#5e4fa2"/><rect x="171.84" y="155.93" width="2.20" height="2.30" fill="#5e4fa2"/><rect x="175.31" y="152.39" width="2.20" height="2.30" fill="#5e4fa2"/><rect x="178.78" y="155.93" width="2.20" height="2.30" fill="#5e4fa2"/></g>
<line x1="32.40" y1="201.30" x2="156.33" y2="24.40" stroke="#ff1f1f" stroke-width="1.15"/>
<rect x="32.40" y="24.40" width="173.50" height="176.90" fill="none" stroke="#555" stroke-width="0.8"/>
<line x1="32.40" y1="201.30" x2="32.40" y2="204.50" stroke="#555" stroke-width="0.7"/>
<text x="32.40" y="211.9" class="tl" text-anchor="middle">0</text>
<line x1="37.36" y1="201.30" x2="37.36" y2="203.30" stroke="#555" stroke-width="0.7"/>
<line x1="42.31" y1="201.30" x2="42.31" y2="203.30" stroke="#555" stroke-width="0.7"/>
<line x1="47.27" y1="201.30" x2="47.27" y2="203.30" stroke="#555" stroke-width="0.7"/>
<line x1="52.23" y1="201.30" x2="52.23" y2="203.30" stroke="#555" stroke-width="0.7"/>
<line x1="57.19" y1="201.30" x2="57.19" y2="204.50" stroke="#555" stroke-width="0.7"/>
<text x="57.19" y="211.9" class="tl" text-anchor="middle">100</text>
<line x1="62.14" y1="201.30" x2="62.14" y2="203.30" stroke="#555" stroke-width="0.7"/>
<line x1="67.10" y1="201.30" x2="67.10" y2="203.30" stroke="#555" stroke-width="0.7"/>
<line x1="72.06" y1="201.30" x2="72.06" y2="203.30" stroke="#555" stroke-width="0.7"/>
<line x1="77.01" y1="201.30" x2="77.01" y2="203.30" stroke="#555" stroke-width="0.7"/>
<line x1="81.97" y1="201.30" x2="81.97" y2="204.50" stroke="#555" stroke-width="0.7"/>
<text x="81.97" y="211.9" class="tl" text-anchor="middle">200</text>
<line x1="86.93" y1="201.30" x2="86.93" y2="203.30" stroke="#555" stroke-width="0.7"/>
<line x1="91.89" y1="201.30" x2="91.89" y2="203.30" stroke="#555" stroke-width="0.7"/>
<line x1="96.84" y1="201.30" x2="96.84" y2="203.30" stroke="#555" stroke-width="0.7"/>
<line x1="101.80" y1="201.30" x2="101.80" y2="203.30" stroke="#555" stroke-width="0.7"/>
<line x1="106.76" y1="201.30" x2="106.76" y2="204.50" stroke="#555" stroke-width="0.7"/>
<text x="106.76" y="211.9" class="tl" text-anchor="middle">300</text>
<line x1="111.71" y1="201.30" x2="111.71" y2="203.30" stroke="#555" stroke-width="0.7"/>
<line x1="116.67" y1="201.30" x2="116.67" y2="203.30" stroke="#555" stroke-width="0.7"/>
<line x1="121.63" y1="201.30" x2="121.63" y2="203.30" stroke="#555" stroke-width="0.7"/>
<line x1="126.59" y1="201.30" x2="126.59" y2="203.30" stroke="#555" stroke-width="0.7"/>
<line x1="131.54" y1="201.30" x2="131.54" y2="204.50" stroke="#555" stroke-width="0.7"/>
<text x="131.54" y="211.9" class="tl" text-anchor="middle">400</text>
<line x1="136.50" y1="201.30" x2="136.50" y2="203.30" stroke="#555" stroke-width="0.7"/>
<line x1="141.46" y1="201.30" x2="141.46" y2="203.30" stroke="#555" stroke-width="0.7"/>
<line x1="146.41" y1="201.30" x2="146.41" y2="203.30" stroke="#555" stroke-width="0.7"/>
<line x1="151.37" y1="201.30" x2="151.37" y2="203.30" stroke="#555" stroke-width="0.7"/>
<line x1="156.33" y1="201.30" x2="156.33" y2="204.50" stroke="#555" stroke-width="0.7"/>
<text x="156.33" y="211.9" class="tl" text-anchor="middle">500</text>
<line x1="161.29" y1="201.30" x2="161.29" y2="203.30" stroke="#555" stroke-width="0.7"/>
<line x1="166.24" y1="201.30" x2="166.24" y2="203.30" stroke="#555" stroke-width="0.7"/>
<line x1="171.20" y1="201.30" x2="171.20" y2="203.30" stroke="#555" stroke-width="0.7"/>
<line x1="176.16" y1="201.30" x2="176.16" y2="203.30" stroke="#555" stroke-width="0.7"/>
<line x1="181.11" y1="201.30" x2="181.11" y2="204.50" stroke="#555" stroke-width="0.7"/>
<text x="181.11" y="211.9" class="tl" text-anchor="middle">600</text>
<line x1="186.07" y1="201.30" x2="186.07" y2="203.30" stroke="#555" stroke-width="0.7"/>
<line x1="191.03" y1="201.30" x2="191.03" y2="203.30" stroke="#555" stroke-width="0.7"/>
<line x1="195.99" y1="201.30" x2="195.99" y2="203.30" stroke="#555" stroke-width="0.7"/>
<line x1="200.94" y1="201.30" x2="200.94" y2="203.30" stroke="#555" stroke-width="0.7"/>
<line x1="205.90" y1="201.30" x2="205.90" y2="204.50" stroke="#555" stroke-width="0.7"/>
<text x="205.90" y="211.9" class="tl" text-anchor="middle">700</text>
<line x1="32.40" y1="201.30" x2="29.00" y2="201.30" stroke="#555" stroke-width="0.7"/>
<text x="27.10" y="204.10" class="tl" text-anchor="end">0</text>
<line x1="32.40" y1="194.22" x2="30.40" y2="194.22" stroke="#555" stroke-width="0.7"/>
<line x1="32.40" y1="187.15" x2="30.40" y2="187.15" stroke="#555" stroke-width="0.7"/>
<line x1="32.40" y1="180.07" x2="30.40" y2="180.07" stroke="#555" stroke-width="0.7"/>
<line x1="32.40" y1="173.00" x2="30.40" y2="173.00" stroke="#555" stroke-width="0.7"/>
<line x1="32.40" y1="165.92" x2="29.00" y2="165.92" stroke="#555" stroke-width="0.7"/>
<text x="27.10" y="168.72" class="tl" text-anchor="end">100</text>
<line x1="32.40" y1="158.84" x2="30.40" y2="158.84" stroke="#555" stroke-width="0.7"/>
<line x1="32.40" y1="151.77" x2="30.40" y2="151.77" stroke="#555" stroke-width="0.7"/>
<line x1="32.40" y1="144.69" x2="30.40" y2="144.69" stroke="#555" stroke-width="0.7"/>
<line x1="32.40" y1="137.62" x2="30.40" y2="137.62" stroke="#555" stroke-width="0.7"/>
<line x1="32.40" y1="130.54" x2="29.00" y2="130.54" stroke="#555" stroke-width="0.7"/>
<text x="27.10" y="133.34" class="tl" text-anchor="end">200</text>
<line x1="32.40" y1="123.46" x2="30.40" y2="123.46" stroke="#555" stroke-width="0.7"/>
<line x1="32.40" y1="116.39" x2="30.40" y2="116.39" stroke="#555" stroke-width="0.7"/>
<line x1="32.40" y1="109.31" x2="30.40" y2="109.31" stroke="#555" stroke-width="0.7"/>
<line x1="32.40" y1="102.24" x2="30.40" y2="102.24" stroke="#555" stroke-width="0.7"/>
<line x1="32.40" y1="95.16" x2="29.00" y2="95.16" stroke="#555" stroke-width="0.7"/>
<text x="27.10" y="97.96" class="tl" text-anchor="end">300</text>
<line x1="32.40" y1="88.08" x2="30.40" y2="88.08" stroke="#555" stroke-width="0.7"/>
<line x1="32.40" y1="81.01" x2="30.40" y2="81.01" stroke="#555" stroke-width="0.7"/>
<line x1="32.40" y1="73.93" x2="30.40" y2="73.93" stroke="#555" stroke-width="0.7"/>
<line x1="32.40" y1="66.86" x2="30.40" y2="66.86" stroke="#555" stroke-width="0.7"/>
<line x1="32.40" y1="59.78" x2="29.00" y2="59.78" stroke="#555" stroke-width="0.7"/>
<text x="27.10" y="62.58" class="tl" text-anchor="end">400</text>
<line x1="32.40" y1="52.70" x2="30.40" y2="52.70" stroke="#555" stroke-width="0.7"/>
<line x1="32.40" y1="45.63" x2="30.40" y2="45.63" stroke="#555" stroke-width="0.7"/>
<line x1="32.40" y1="38.55" x2="30.40" y2="38.55" stroke="#555" stroke-width="0.7"/>
<line x1="32.40" y1="31.48" x2="30.40" y2="31.48" stroke="#555" stroke-width="0.7"/>
<line x1="32.40" y1="24.40" x2="29.00" y2="24.40" stroke="#555" stroke-width="0.7"/>
<text x="27.10" y="27.20" class="tl" text-anchor="end">500</text>
<text x="45.60" y="11" class="tt">UFS-RAQMS v9.1 Control/Insitu CO (Diskin)</text>
<text x="32.20" y="19.9" class="tt" font-weight="bold">(a)</text>
<text x="47.60" y="19.9" class="tt">7/24-9/5, 2019</text>
<text x="34.00" y="38.6" class="an">r = 0.7956</text>
<text x="34.00" y="48.6" class="an">bias (mod-obs) = -9.7ppbv</text>
<text x="119.15" y="221.9" class="at" text-anchor="middle">DC8 CO (ppbv)</text>
<text transform="translate(10.40,112.7) rotate(-90)" class="at" text-anchor="middle" style="font-size:7.15px">UFS-RAQMS Control CO (ppbv)</text>
<rect x="215.40" y="192.830" width="12.00" height="8.670" fill="#5e4fa2"/>
<rect x="215.40" y="184.460" width="12.00" height="8.670" fill="#486cb0"/>
<rect x="215.40" y="176.090" width="12.00" height="8.670" fill="#3288bd"/>
<rect x="215.40" y="167.720" width="12.00" height="8.670" fill="#4ca5b1"/>
<rect x="215.40" y="159.350" width="12.00" height="8.670" fill="#66c2a5"/>
<rect x="215.40" y="150.980" width="12.00" height="8.670" fill="#89d0a4"/>
<rect x="215.40" y="142.610" width="12.00" height="8.670" fill="#abdda4"/>
<rect x="215.40" y="134.240" width="12.00" height="8.670" fill="#c9e99e"/>
<rect x="215.40" y="125.870" width="12.00" height="8.670" fill="#e6f598"/>
<rect x="215.40" y="117.500" width="12.00" height="8.670" fill="#f3faac"/>
<rect x="215.40" y="109.130" width="12.00" height="8.670" fill="#ffffbf"/>
<rect x="215.40" y="100.760" width="12.00" height="8.670" fill="#fef0a5"/>
<rect x="215.40" y="92.390" width="12.00" height="8.670" fill="#fee08b"/>
<rect x="215.40" y="84.020" width="12.00" height="8.670" fill="#fec776"/>
<rect x="215.40" y="75.650" width="12.00" height="8.670" fill="#fdae61"/>
<rect x="215.40" y="67.280" width="12.00" height="8.670" fill="#f98e52"/>
<rect x="215.40" y="58.910" width="12.00" height="8.670" fill="#f46d43"/>
<rect x="215.40" y="50.540" width="12.00" height="8.670" fill="#e45649"/>
<rect x="215.40" y="42.170" width="12.00" height="8.670" fill="#d53e4f"/>
<rect x="215.40" y="33.800" width="12.00" height="8.670" fill="#ba2048"/>
<polygon points="215.40,34.10 227.40,34.10 221.40,24.00" fill="#9e0142"/>
<polygon points="215.40,201.50 215.40,34.10 221.40,24.00 227.40,34.10 227.40,201.50" fill="none" stroke="#555" stroke-width="0.7"/>
<line x1="227.40" y1="201.50" x2="230.60" y2="201.50" stroke="#555" stroke-width="0.7"/>
<text x="231.80" y="204.30" class="tl">0</text>
<line x1="227.40" y1="159.65" x2="230.60" y2="159.65" stroke="#555" stroke-width="0.7"/>
<text x="231.80" y="162.45" class="tl">1</text>
<line x1="227.40" y1="117.80" x2="230.60" y2="117.80" stroke="#555" stroke-width="0.7"/>
<text x="231.80" y="120.60" class="tl">2</text>
<line x1="227.40" y1="75.95" x2="230.60" y2="75.95" stroke="#555" stroke-width="0.7"/>
<text x="231.80" y="78.75" class="tl">3</text>
<line x1="227.40" y1="34.10" x2="230.60" y2="34.10" stroke="#555" stroke-width="0.7"/>
<text x="231.80" y="36.90" class="tl">4</text>
<text transform="translate(245.20,113.2) rotate(-90)" class="at" text-anchor="middle">log(count)</text>
<g><rect x="294.33" y="190.44" width="3.97" height="4.04" fill="#ffffbf"/><rect x="294.33" y="179.82" width="3.97" height="4.04" fill="#fdae61"/><rect x="294.33" y="176.28" width="3.97" height="4.04" fill="#ba2048"/><rect x="294.33" y="172.75" width="3.97" height="4.04" fill="#ba2048"/><rect x="294.33" y="169.21" width="3.97" height="4.04" fill="#f98e52"/><rect x="294.33" y="165.67" width="3.97" height="4.04" fill="#d53e4f"/><rect x="294.33" y="162.13" width="3.97" height="4.04" fill="#f98e52"/><rect x="294.33" y="158.59" width="3.97" height="4.04" fill="#f98e52"/><rect x="294.33" y="155.06" width="3.97" height="4.04" fill="#fee08b"/><rect x="294.33" y="151.52" width="3.97" height="4.04" fill="#66c2a5"/><rect x="294.33" y="147.98" width="3.97" height="4.04" fill="#66c2a5"/><rect x="294.33" y="144.44" width="3.97" height="4.04" fill="#66c2a5"/><rect x="294.33" y="140.90" width="3.97" height="4.04" fill="#abdda4"/><rect x="294.75" y="137.79" width="3.12" height="3.18" fill="#3288bd"/><rect x="294.75" y="134.25" width="3.12" height="3.18" fill="#3288bd"/><rect x="294.75" y="130.72" width="3.12" height="3.18" fill="#3288bd"/><rect x="294.75" y="113.03" width="3.12" height="3.18" fill="#5e4fa2"/><rect x="297.80" y="190.44" width="3.97" height="4.04" fill="#fee08b"/><rect x="297.80" y="179.82" width="3.97" height="4.04" fill="#fee08b"/><rect x="297.80" y="176.28" width="3.97" height="4.04" fill="#f98e52"/><rect x="297.80" y="172.75" width="3.97" height="4.04" fill="#9e0142"/><rect x="297.80" y="169.21" width="3.97" height="4.04" fill="#9e0142"/><rect x="297.80" y="165.67" width="3.97" height="4.04" fill="#9e0142"/><rect x="297.80" y="162.13" width="3.97" height="4.04" fill="#ba2048"/><rect x="297.80" y="158.59" width="3.97" height="4.04" fill="#f46d43"/><rect x="297.80" y="155.06" width="3.97" height="4.04" fill="#fdae61"/><rect x="297.80" y="151.52" width="3.97" height="4.04" fill="#fdae61"/><rect x="297.80" y="147.98" width="3.97" height="4.04" fill="#fee08b"/><rect x="297.80" y="144.44" width="3.97" height="4.04" fill="#ffffbf"/><rect x="297.80" y="140.90" width="3.97" height="4.04" fill="#ffffbf"/><rect x="297.80" y="137.37" width="3.97" height="4.04" fill="#e6f598"/><rect x="297.80" y="133.83" width="3.97" height="4.04" fill="#e6f598"/><rect x="297.80" y="130.29" width="3.97" height="4.04" fill="#abdda4"/><rect x="298.22" y="127.18" width="3.12" height="3.18" fill="#5e4fa2"/><rect x="298.22" y="123.64" width="3.12" height="3.18" fill="#5e4fa2"/><rect x="298.22" y="120.10" width="3.12" height="3.18" fill="#3288bd"/><rect x="298.22" y="116.56" width="3.12" height="3.18" fill="#5e4fa2"/><rect x="298.22" y="113.03" width="3.12" height="3.18" fill="#3288bd"/><rect x="298.22" y="109.49" width="3.12" height="3.18" fill="#5e4fa2"/><rect x="298.22" y="105.95" width="3.12" height="3.18" fill="#3288bd"/><rect x="298.22" y="102.41" width="3.12" height="3.18" fill="#3288bd"/><rect x="301.27" y="190.44" width="3.97" height="4.04" fill="#ffffbf"/><rect x="301.69" y="187.32" width="3.12" height="3.18" fill="#5e4fa2"/><rect x="301.27" y="179.82" width="3.97" height="4.04" fill="#e6f598"/><rect x="301.27" y="176.28" width="3.97" height="4.04" fill="#fdae61"/><rect x="301.27" y="172.75" width="3.97" height="4.04" fill="#f98e52"/><rect x="301.27" y="169.21" width="3.97" height="4.04" fill="#ba2048"/><rect x="301.27" y="165.67" width="3.97" height="4.04" fill="#9e0142"/><rect x="301.27" y="162.13" width="3.97" height="4.04" fill="#ba2048"/><rect x="301.27" y="158.59" width="3.97" height="4.04" fill="#f98e52"/><rect x="301.27" y="155.06" width="3.97" height="4.04" fill="#fdae61"/><rect x="301.27" y="151.52" width="3.97" height="4.04" fill="#fee08b"/><rect x="301.27" y="147.98" width="3.97" height="4.04" fill="#ffffbf"/><rect x="301.27" y="144.44" width="3.97" height="4.04" fill="#ffffbf"/><rect x="301.27" y="140.90" width="3.97" height="4.04" fill="#ffffbf"/><rect x="301.27" y="137.37" width="3.97" height="4.04" fill="#ffffbf"/><rect x="301.27" y="133.83" width="3.97" height="4.04" fill="#e6f598"/><rect x="301.69" y="130.72" width="3.12" height="3.18" fill="#3288bd"/><rect x="301.69" y="127.18" width="3.12" height="3.18" fill="#5e4fa2"/><rect x="301.69" y="105.95" width="3.12" height="3.18" fill="#5e4fa2"/><rect x="301.69" y="102.41" width="3.12" height="3.18" fill="#3288bd"/><rect x="301.69" y="98.87" width="3.12" height="3.18" fill="#5e4fa2"/><rect x="301.69" y="91.80" width="3.12" height="3.18" fill="#5e4fa2"/><rect x="301.69" y="88.26" width="3.12" height="3.18" fill="#5e4fa2"/><rect x="301.69" y="84.72" width="3.12" height="3.18" fill="#3288bd"/><rect x="301.69" y="74.11" width="3.12" height="3.18" fill="#3288bd"/><rect x="304.74" y="190.44" width="3.97" height="4.04" fill="#e6f598"/><rect x="304.74" y="176.28" width="3.97" height="4.04" fill="#e6f598"/><rect x="304.74" y="172.75" width="3.97" height="4.04" fill="#fdae61"/><rect x="304.74" y="169.21" width="3.97" height="4.04" fill="#d53e4f"/><rect x="304.74" y="165.67" width="3.97" height="4.04" fill="#ba2048"/><rect x="304.74" y="162.13" width="3.97" height="4.04" fill="#d53e4f"/><rect x="304.74" y="158.59" width="3.97" height="4.04" fill="#e45649"/><rect x="304.74" y="155.06" width="3.97" height="4.04" fill="#f98e52"/><rect x="304.74" y="151.52" width="3.97" height="4.04" fill="#f46d43"/><rect x="304.74" y="147.98" width="3.97" height="4.04" fill="#fdae61"/><rect x="304.74" y="144.44" width="3.97" height="4.04" fill="#fdae61"/><rect x="304.74" y="140.90" width="3.97" height="4.04" fill="#fee08b"/><rect x="305.16" y="137.79" width="3.12" height="3.18" fill="#3288bd"/><rect x="304.74" y="133.83" width="3.97" height="4.04" fill="#66c2a5"/><rect x="304.74" y="130.29" width="3.97" height="4.04" fill="#e6f598"/><rect x="305.16" y="127.18" width="3.12" height="3.18" fill="#3288bd"/><rect x="305.16" y="123.64" width="3.12" height="3.18" fill="#3288bd"/><rect x="304.74" y="119.68" width="3.97" height="4.04" fill="#4ca5b1"/><rect x="305.62" y="95.78" width="2.20" height="2.30" fill="#5e4fa2"/><rect x="305.16" y="88.26" width="3.12" height="3.18" fill="#5e4fa2"/><rect x="305.16" y="74.11" width="3.12" height="3.18" fill="#5e4fa2"/><rect x="308.63" y="176.71" width="3.12" height="3.18" fill="#5e4fa2"/><rect x="308.21" y="172.75" width="3.97" height="4.04" fill="#fee08b"/><rect x="308.21" y="169.21" width="3.97" height="4.04" fill="#fdae61"/><rect x="308.21" y="165.67" width="3.97" height="4.04" fill="#f98e52"/><rect x="308.21" y="162.13" width="3.97" height="4.04" fill="#f98e52"/><rect x="308.21" y="158.59" width="3.97" height="4.04" fill="#f98e52"/><rect x="308.21" y="155.06" width="3.97" height="4.04" fill="#f98e52"/><rect x="308.21" y="151.52" width="3.97" height="4.04" fill="#f98e52"/><rect x="308.21" y="147.98" width="3.97" height="4.04" fill="#fee08b"/><rect x="308.21" y="144.44" width="3.97" height="4.04" fill="#f98e52"/><rect x="308.21" y="140.90" width="3.97" height="4.04" fill="#fee08b"/><rect x="308.21" y="137.37" width="3.97" height="4.04" fill="#e6f598"/><rect x="308.21" y="133.83" width="3.97" height="4.04" fill="#abdda4"/><rect x="308.21" y="130.29" width="3.97" height="4.04" fill="#fee08b"/><rect x="308.63" y="127.18" width="3.12" height="3.18" fill="#5e4fa2"/><rect x="308.63" y="123.64" width="3.12" height="3.18" fill="#3288bd"/><rect x="309.09" y="92.24" width="2.20" height="2.30" fill="#5e4fa2"/><rect x="309.09" y="85.17" width="2.20" height="2.30" fill="#5e4fa2"/><rect x="308.63" y="74.11" width="3.12" height="3.18" fill="#3288bd"/><rect x="308.63" y="70.57" width="3.12" height="3.18" fill="#5e4fa2"/><rect x="312.56" y="187.77" width="2.20" height="2.30" fill="#5e4fa2"/><rect x="312.10" y="176.71" width="3.12" height="3.18" fill="#3288bd"/><rect x="311.68" y="172.75" width="3.97" height="4.04" fill="#e6f598"/><rect x="311.68" y="169.21" width="3.97" height="4.04" fill="#ffffbf"/><rect x="311.68" y="165.67" width="3.97" height="4.04" fill="#fee08b"/><rect x="311.68" y="162.13" width="3.97" height="4.04" fill="#fdae61"/><rect x="311.68" y="158.59" width="3.97" height="4.04" fill="#fdae61"/><rect x="311.68" y="155.06" width="3.97" height="4.04" fill="#fdae61"/><rect x="311.68" y="151.52" width="3.97" height="4.04" fill="#fdae61"/><rect x="311.68" y="147.98" width="3.97" height="4.04" fill="#ffffbf"/><rect x="311.68" y="144.44" width="3.97" height="4.04" fill="#fee08b"/><rect x="311.68" y="140.90" width="3.97" height="4.04" fill="#ffffbf"/><rect x="311.68" y="137.37" width="3.97" height="4.04" fill="#ffffbf"/><rect x="311.68" y="133.83" width="3.97" height="4.04" fill="#66c2a5"/><rect x="311.68" y="130.29" width="3.97" height="4.04" fill="#fdae61"/><rect x="311.68" y="126.75" width="3.97" height="4.04" fill="#e6f598"/><rect x="311.68" y="123.21" width="3.97" height="4.04" fill="#ffffbf"/><rect x="311.68" y="119.68" width="3.97" height="4.04" fill="#c9e99e"/><rect x="312.10" y="116.56" width="3.12" height="3.18" fill="#5e4fa2"/><rect x="311.68" y="112.60" width="3.97" height="4.04" fill="#ffffbf"/><rect x="312.10" y="109.49" width="3.12" height="3.18" fill="#5e4fa2"/><rect x="311.68" y="105.52" width="3.97" height="4.04" fill="#4ca5b1"/><rect x="312.10" y="74.11" width="3.12" height="3.18" fill="#3288bd"/><rect x="312.10" y="70.57" width="3.12" height="3.18" fill="#3288bd"/><rect x="315.15" y="172.75" width="3.97" height="4.04" fill="#abdda4"/><rect x="315.15" y="169.21" width="3.97" height="4.04" fill="#ffffbf"/><rect x="315.15" y="165.67" width="3.97" height="4.04" fill="#ffffbf"/><rect x="315.15" y="162.13" width="3.97" height="4.04" fill="#fee08b"/><rect x="315.15" y="158.59" width="3.97" height="4.04" fill="#fee08b"/><rect x="315.15" y="155.06" width="3.97" height="4.04" fill="#fee08b"/><rect x="315.15" y="151.52" width="3.97" height="4.04" fill="#fdae61"/><rect x="315.15" y="147.98" width="3.97" height="4.04" fill="#f98e52"/><rect x="315.15" y="144.44" width="3.97" height="4.04" fill="#fdae61"/><rect x="315.15" y="140.90" width="3.97" height="4.04" fill="#f98e52"/><rect x="315.15" y="137.37" width="3.97" height="4.04" fill="#fdae61"/><rect x="315.15" y="133.83" width="3.97" height="4.04" fill="#fdae61"/><rect x="315.15" y="130.29" width="3.97" height="4.04" fill="#f98e52"/><rect x="315.15" y="126.75" width="3.97" height="4.04" fill="#fee08b"/><rect x="315.15" y="123.21" width="3.97" height="4.04" fill="#ffffbf"/><rect x="315.15" y="119.68" width="3.97" height="4.04" fill="#c9e99e"/><rect x="315.15" y="116.14" width="3.97" height="4.04" fill="#4ca5b1"/><rect x="315.15" y="112.60" width="3.97" height="4.04" fill="#4ca5b1"/><rect x="315.57" y="109.49" width="3.12" height="3.18" fill="#3288bd"/><rect x="315.57" y="98.87" width="3.12" height="3.18" fill="#3288bd"/><rect x="315.15" y="84.30" width="3.97" height="4.04" fill="#4ca5b1"/><rect x="315.57" y="81.18" width="3.12" height="3.18" fill="#5e4fa2"/><rect x="315.57" y="77.65" width="3.12" height="3.18" fill="#5e4fa2"/><rect x="315.57" y="74.11" width="3.12" height="3.18" fill="#3288bd"/><rect x="315.57" y="70.57" width="3.12" height="3.18" fill="#5e4fa2"/><rect x="318.62" y="172.75" width="3.97" height="4.04" fill="#66c2a5"/><rect x="318.62" y="169.21" width="3.97" height="4.04" fill="#e6f598"/><rect x="318.62" y="165.67" width="3.97" height="4.04" fill="#66c2a5"/><rect x="319.04" y="162.56" width="3.12" height="3.18" fill="#5e4fa2"/><rect x="318.62" y="158.59" width="3.97" height="4.04" fill="#66c2a5"/><rect x="318.62" y="155.06" width="3.97" height="4.04" fill="#ffffbf"/><rect x="318.62" y="151.52" width="3.97" height="4.04" fill="#fee08b"/><rect x="318.62" y="147.98" width="3.97" height="4.04" fill="#f98e52"/><rect x="318.62" y="144.44" width="3.97" height="4.04" fill="#f98e52"/><rect x="318.62" y="140.90" width="3.97" height="4.04" fill="#fdae61"/><rect x="318.62" y="137.37" width="3.97" height="4.04" fill="#fee08b"/><rect x="318.62" y="133.83" width="3.97" height="4.04" fill="#fdae61"/><rect x="318.62" y="130.29" width="3.97" height="4.04" fill="#f98e52"/><rect x="318.62" y="126.75" width="3.97" height="4.04" fill="#fdae61"/><rect x="318.62" y="123.21" width="3.97" height="4.04" fill="#fdae61"/><rect x="318.62" y="119.68" width="3.97" height="4.04" fill="#89d0a4"/><rect x="319.04" y="116.56" width="3.12" height="3.18" fill="#3288bd"/><rect x="318.62" y="112.60" width="3.97" height="4.04" fill="#4ca5b1"/><rect x="319.04" y="109.49" width="3.12" height="3.18" fill="#5e4fa2"/><rect x="319.04" y="105.95" width="3.12" height="3.18" fill="#3288bd"/><rect x="319.04" y="102.41" width="3.12" height="3.18" fill="#5e4fa2"/><rect x="319.04" y="98.87" width="3.12" height="3.18" fill="#5e4fa2"/><rect x="319.04" y="84.72" width="3.12" height="3.18" fill="#5e4fa2"/><rect x="319.04" y="77.65" width="3.12" height="3.18" fill="#5e4fa2"/><rect x="319.04" y="74.11" width="3.12" height="3.18" fill="#3288bd"/><rect x="319.04" y="70.57" width="3.12" height="3.18" fill="#3288bd"/><rect x="322.51" y="173.17" width="3.12" height="3.18" fill="#3288bd"/><rect x="322.09" y="169.21" width="3.97" height="4.04" fill="#66c2a5"/><rect x="322.51" y="166.10" width="3.12" height="3.18" fill="#3288bd"/><rect x="322.51" y="162.56" width="3.12" height="3.18" fill="#5e4fa2"/><rect x="322.09" y="158.59" width="3.97" height="4.04" fill="#66c2a5"/><rect x="322.09" y="155.06" width="3.97" height="4.04" fill="#e6f598"/><rect x="322.09" y="151.52" width="3.97" height="4.04" fill="#ffffbf"/><rect x="322.09" y="147.98" width="3.97" height="4.04" fill="#fee08b"/><rect x="322.09" y="144.44" width="3.97" height="4.04" fill="#ffffbf"/><rect x="322.09" y="140.90" width="3.97" height="4.04" fill="#fee08b"/><rect x="322.09" y="137.37" width="3.97" height="4.04" fill="#ffffbf"/><rect x="322.09" y="133.83" width="3.97" height="4.04" fill="#e6f598"/><rect x="322.09" y="130.29" width="3.97" height="4.04" fill="#fdae61"/><rect x="322.09" y="126.75" width="3.97" height="4.04" fill="#f98e52"/><rect x="322.09" y="123.21" width="3.97" height="4.04" fill="#fee08b"/><rect x="322.09" y="119.68" width="3.97" height="4.04" fill="#c9e99e"/><rect x="322.09" y="116.14" width="3.97" height="4.04" fill="#4ca5b1"/><rect x="322.09" y="112.60" width="3.97" height="4.04" fill="#89d0a4"/><rect x="322.09" y="109.06" width="3.97" height="4.04" fill="#4ca5b1"/><rect x="322.51" y="105.95" width="3.12" height="3.18" fill="#5e4fa2"/><rect x="322.51" y="102.41" width="3.12" height="3.18" fill="#3288bd"/><rect x="322.51" y="98.87" width="3.12" height="3.18" fill="#5e4fa2"/><rect x="322.09" y="94.91" width="3.97" height="4.04" fill="#4ca5b1"/><rect x="322.51" y="91.80" width="3.12" height="3.18" fill="#3288bd"/><rect x="322.09" y="87.83" width="3.97" height="4.04" fill="#4ca5b1"/><rect x="322.51" y="84.72" width="3.12" height="3.18" fill="#5e4fa2"/><rect x="322.51" y="77.65" width="3.12" height="3.18" fill="#3288bd"/><rect x="322.09" y="73.68" width="3.97" height="4.04" fill="#4ca5b1"/><rect x="322.51" y="70.57" width="3.12" height="3.18" fill="#3288bd"/><rect x="325.98" y="169.63" width="3.12" height="3.18" fill="#5e4fa2"/><rect x="325.98" y="166.10" width="3.12" height="3.18" fill="#3288bd"/><rect x="325.98" y="159.02" width="3.12" height="3.18" fill="#5e4fa2"/><rect x="325.56" y="155.06" width="3.97" height="4.04" fill="#66c2a5"/><rect x="325.56" y="151.52" width="3.97" height="4.04" fill="#e6f598"/><rect x="325.56" y="147.98" width="3.97" height="4.04" fill="#ffffbf"/><rect x="325.56" y="144.44" width="3.97" height="4.04" fill="#e6f598"/><rect x="325.56" y="140.90" width="3.97" height="4.04" fill="#e6f598"/><rect x="325.56" y="137.37" width="3.97" height="4.04" fill="#66c2a5"/><rect x="325.56" y="133.83" width="3.97" height="4.04" fill="#abdda4"/><rect x="325.56" y="130.29" width="3.97" height="4.04" fill="#ffffbf"/><rect x="325.56" y="126.75" width="3.97" height="4.04" fill="#ffffbf"/><rect x="325.56" y="123.21" width="3.97" height="4.04" fill="#e6f598"/><rect x="325.56" y="119.68" width="3.97" height="4.04" fill="#89d0a4"/><rect x="325.56" y="116.14" width="3.97" height="4.04" fill="#89d0a4"/><rect x="325.56" y="112.60" width="3.97" height="4.04" fill="#4ca5b1"/><rect x="325.56" y="109.06" width="3.97" height="4.04" fill="#89d0a4"/><rect x="325.98" y="105.95" width="3.12" height="3.18" fill="#3288bd"/><rect x="325.98" y="95.34" width="3.12" height="3.18" fill="#3288bd"/><rect x="325.56" y="91.37" width="3.97" height="4.04" fill="#4ca5b1"/><rect x="325.56" y="87.83" width="3.97" height="4.04" fill="#89d0a4"/><rect x="325.56" y="84.30" width="3.97" height="4.04" fill="#4ca5b1"/><rect x="325.98" y="77.65" width="3.12" height="3.18" fill="#3288bd"/><rect x="325.56" y="73.68" width="3.97" height="4.04" fill="#4ca5b1"/><rect x="325.56" y="70.14" width="3.97" height="4.04" fill="#4ca5b1"/><rect x="325.98" y="67.03" width="3.12" height="3.18" fill="#5e4fa2"/><rect x="329.91" y="163.00" width="2.20" height="2.30" fill="#5e4fa2"/><rect x="329.45" y="155.48" width="3.12" height="3.18" fill="#3288bd"/><rect x="329.03" y="151.52" width="3.97" height="4.04" fill="#e6f598"/><rect x="329.03" y="147.98" width="3.97" height="4.04" fill="#e6f598"/><rect x="329.03" y="144.44" width="3.97" height="4.04" fill="#abdda4"/><rect x="329.03" y="140.90" width="3.97" height="4.04" fill="#66c2a5"/><rect x="329.45" y="137.79" width="3.12" height="3.18" fill="#3288bd"/><rect x="329.03" y="133.83" width="3.97" height="4.04" fill="#e6f598"/><rect x="329.03" y="130.29" width="3.97" height="4.04" fill="#fee08b"/><rect x="329.03" y="126.75" width="3.97" height="4.04" fill="#ffffbf"/><rect x="329.03" y="123.21" width="3.97" height="4.04" fill="#abdda4"/><rect x="329.03" y="119.68" width="3.97" height="4.04" fill="#4ca5b1"/><rect x="329.03" y="116.14" width="3.97" height="4.04" fill="#4ca5b1"/><rect x="329.03" y="112.60" width="3.97" height="4.04" fill="#89d0a4"/><rect x="329.03" y="109.06" width="3.97" height="4.04" fill="#4ca5b1"/><rect x="329.45" y="105.95" width="3.12" height="3.18" fill="#5e4fa2"/><rect x="329.45" y="102.41" width="3.12" height="3.18" fill="#5e4fa2"/><rect x="329.45" y="98.87" width="3.12" height="3.18" fill="#3288bd"/><rect x="329.45" y="95.34" width="3.12" height="3.18" fill="#5e4fa2"/><rect x="329.45" y="91.80" width="3.12" height="3.18" fill="#3288bd"/><rect x="329.03" y="87.83" width="3.97" height="4.04" fill="#4ca5b1"/><rect x="329.45" y="84.72" width="3.12" height="3.18" fill="#3288bd"/><rect x="329.45" y="81.18" width="3.12" height="3.18" fill="#3288bd"/><rect x="329.45" y="77.65" width="3.12" height="3.18" fill="#3288bd"/><rect x="329.45" y="74.11" width="3.12" height="3.18" fill="#3288bd"/><rect x="329.03" y="70.14" width="3.97" height="4.04" fill="#89d0a4"/><rect x="329.03" y="66.61" width="3.97" height="4.04" fill="#4ca5b1"/><rect x="332.92" y="155.48" width="3.12" height="3.18" fill="#3288bd"/><rect x="332.50" y="151.52" width="3.97" height="4.04" fill="#66c2a5"/><rect x="332.50" y="147.98" width="3.97" height="4.04" fill="#e6f598"/><rect x="332.50" y="144.44" width="3.97" height="4.04" fill="#e6f598"/><rect x="332.50" y="140.90" width="3.97" height="4.04" fill="#abdda4"/><rect x="332.92" y="137.79" width="3.12" height="3.18" fill="#5e4fa2"/><rect x="332.50" y="133.83" width="3.97" height="4.04" fill="#e6f598"/><rect x="332.50" y="130.29" width="3.97" height="4.04" fill="#66c2a5"/><rect x="332.50" y="126.75" width="3.97" height="4.04" fill="#66c2a5"/><rect x="332.50" y="123.21" width="3.97" height="4.04" fill="#e6f598"/><rect x="332.50" y="119.68" width="3.97" height="4.04" fill="#c9e99e"/><rect x="332.50" y="116.14" width="3.97" height="4.04" fill="#89d0a4"/><rect x="332.50" y="112.60" width="3.97" height="4.04" fill="#4ca5b1"/><rect x="332.92" y="109.49" width="3.12" height="3.18" fill="#3288bd"/><rect x="332.50" y="105.52" width="3.97" height="4.04" fill="#4ca5b1"/><rect x="332.92" y="102.41" width="3.12" height="3.18" fill="#5e4fa2"/><rect x="332.92" y="98.87" width="3.12" height="3.18" fill="#5e4fa2"/><rect x="332.92" y="95.34" width="3.12" height="3.18" fill="#3288bd"/><rect x="332.92" y="91.80" width="3.12" height="3.18" fill="#3288bd"/><rect x="332.50" y="87.83" width="3.97" height="4.04" fill="#89d0a4"/><rect x="332.50" y="84.30" width="3.97" height="4.04" fill="#4ca5b1"/><rect x="332.50" y="80.76" width="3.97" height="4.04" fill="#89d0a4"/><rect x="332.92" y="77.65" width="3.12" height="3.18" fill="#3288bd"/><rect x="332.92" y="74.11" width="3.12" height="3.18" fill="#5e4fa2"/><rect x="332.50" y="70.14" width="3.97" height="4.04" fill="#89d0a4"/><rect x="332.50" y="66.61" width="3.97" height="4.04" fill="#c9e99e"/><rect x="336.85" y="166.54" width="2.20" height="2.30" fill="#5e4fa2"/><rect x="336.39" y="159.02" width="3.12" height="3.18" fill="#5e4fa2"/><rect x="336.39" y="151.94" width="3.12" height="3.18" fill="#3288bd"/><rect x="335.97" y="147.98" width="3.97" height="4.04" fill="#66c2a5"/><rect x="335.97" y="144.44" width="3.97" height="4.04" fill="#abdda4"/><rect x="335.97" y="140.90" width="3.97" height="4.04" fill="#66c2a5"/><rect x="335.97" y="137.37" width="3.97" height="4.04" fill="#66c2a5"/><rect x="335.97" y="133.83" width="3.97" height="4.04" fill="#abdda4"/><rect x="336.39" y="130.72" width="3.12" height="3.18" fill="#3288bd"/><rect x="336.39" y="127.18" width="3.12" height="3.18" fill="#3288bd"/><rect x="335.97" y="123.21" width="3.97" height="4.04" fill="#e6f598"/><rect x="335.97" y="119.68" width="3.97" height="4.04" fill="#c9e99e"/><rect x="335.97" y="116.14" width="3.97" height="4.04" fill="#89d0a4"/><rect x="335.97" y="112.60" width="3.97" height="4.04" fill="#89d0a4"/><rect x="336.39" y="109.49" width="3.12" height="3.18" fill="#5e4fa2"/><rect x="335.97" y="105.52" width="3.97" height="4.04" fill="#4ca5b1"/><rect x="336.39" y="102.41" width="3.12" height="3.18" fill="#3288bd"/><rect x="336.39" y="95.34" width="3.12" height="3.18" fill="#5e4fa2"/><rect x="336.39" y="91.80" width="3.12" height="3.18" fill="#5e4fa2"/><rect x="336.39" y="88.26" width="3.12" height="3.18" fill="#5e4fa2"/><rect x="336.39" y="81.18" width="3.12" height="3.18" fill="#3288bd"/><rect x="335.97" y="77.22" width="3.97" height="4.04" fill="#4ca5b1"/><rect x="335.97" y="73.68" width="3.97" height="4.04" fill="#4ca5b1"/><rect x="335.97" y="70.14" width="3.97" height="4.04" fill="#4ca5b1"/><rect x="335.97" y="66.61" width="3.97" height="4.04" fill="#89d0a4"/><rect x="336.39" y="63.49" width="3.12" height="3.18" fill="#3288bd"/><rect x="339.86" y="159.02" width="3.12" height="3.18" fill="#5e4fa2"/><rect x="339.86" y="155.48" width="3.12" height="3.18" fill="#3288bd"/><rect x="339.44" y="151.52" width="3.97" height="4.04" fill="#66c2a5"/><rect x="339.86" y="148.41" width="3.12" height="3.18" fill="#3288bd"/><rect x="339.44" y="144.44" width="3.97" height="4.04" fill="#e6f598"/><rect x="339.44" y="140.90" width="3.97" height="4.04" fill="#66c2a5"/><rect x="339.44" y="137.37" width="3.97" height="4.04" fill="#abdda4"/><rect x="339.44" y="133.83" width="3.97" height="4.04" fill="#e6f598"/><rect x="339.44" y="126.75" width="3.97" height="4.04" fill="#abdda4"/><rect x="339.86" y="123.64" width="3.12" height="3.18" fill="#3288bd"/><rect x="339.44" y="119.68" width="3.97" height="4.04" fill="#89d0a4"/><rect x="339.44" y="116.14" width="3.97" height="4.04" fill="#4ca5b1"/><rect x="339.44" y="112.60" width="3.97" height="4.04" fill="#4ca5b1"/><rect x="339.44" y="109.06" width="3.97" height="4.04" fill="#89d0a4"/><rect x="339.86" y="105.95" width="3.12" height="3.18" fill="#3288bd"/><rect x="339.86" y="102.41" width="3.12" height="3.18" fill="#5e4fa2"/><rect x="339.86" y="98.87" width="3.12" height="3.18" fill="#5e4fa2"/><rect x="339.86" y="95.34" width="3.12" height="3.18" fill="#3288bd"/><rect x="339.44" y="87.83" width="3.97" height="4.04" fill="#4ca5b1"/><rect x="339.86" y="84.72" width="3.12" height="3.18" fill="#5e4fa2"/><rect x="339.86" y="77.65" width="3.12" height="3.18" fill="#5e4fa2"/><rect x="339.86" y="74.11" width="3.12" height="3.18" fill="#3288bd"/><rect x="339.86" y="70.57" width="3.12" height="3.18" fill="#3288bd"/><rect x="339.44" y="66.61" width="3.97" height="4.04" fill="#4ca5b1"/><rect x="339.44" y="63.07" width="3.97" height="4.04" fill="#89d0a4"/><rect x="339.44" y="59.53" width="3.97" height="4.04" fill="#4ca5b1"/><rect x="339.86" y="56.42" width="3.12" height="3.18" fill="#5e4fa2"/><rect x="343.33" y="162.56" width="3.12" height="3.18" fill="#5e4fa2"/><rect x="343.33" y="159.02" width="3.12" height="3.18" fill="#5e4fa2"/><rect x="343.33" y="148.41" width="3.12" height="3.18" fill="#5e4fa2"/><rect x="342.91" y="144.44" width="3.97" height="4.04" fill="#66c2a5"/><rect x="343.33" y="141.33" width="3.12" height="3.18" fill="#3288bd"/><rect x="343.33" y="137.79" width="3.12" height="3.18" fill="#3288bd"/><rect x="342.91" y="133.83" width="3.97" height="4.04" fill="#abdda4"/><rect x="342.91" y="130.29" width="3.97" height="4.04" fill="#ffffbf"/><rect x="343.33" y="127.18" width="3.12" height="3.18" fill="#3288bd"/><rect x="342.91" y="123.21" width="3.97" height="4.04" fill="#abdda4"/><rect x="342.91" y="119.68" width="3.97" height="4.04" fill="#89d0a4"/><rect x="342.91" y="116.14" width="3.97" height="4.04" fill="#4ca5b1"/><rect x="342.91" y="112.60" width="3.97" height="4.04" fill="#89d0a4"/><rect x="342.91" y="109.06" width="3.97" height="4.04" fill="#4ca5b1"/><rect x="342.91" y="105.52" width="3.97" height="4.04" fill="#4ca5b1"/><rect x="343.33" y="102.41" width="3.12" height="3.18" fill="#3288bd"/><rect x="342.91" y="94.91" width="3.97" height="4.04" fill="#4ca5b1"/><rect x="343.33" y="84.72" width="3.12" height="3.18" fill="#5e4fa2"/><rect x="342.91" y="80.76" width="3.97" height="4.04" fill="#4ca5b1"/><rect x="343.33" y="77.65" width="3.12" height="3.18" fill="#3288bd"/><rect x="342.91" y="73.68" width="3.97" height="4.04" fill="#4ca5b1"/><rect x="343.33" y="70.57" width="3.12" height="3.18" fill="#5e4fa2"/><rect x="343.33" y="67.03" width="3.12" height="3.18" fill="#5e4fa2"/><rect x="343.33" y="63.49" width="3.12" height="3.18" fill="#3288bd"/><rect x="343.33" y="59.96" width="3.12" height="3.18" fill="#3288bd"/><rect x="346.80" y="159.02" width="3.12" height="3.18" fill="#5e4fa2"/><rect x="346.80" y="151.94" width="3.12" height="3.18" fill="#5e4fa2"/><rect x="346.80" y="144.87" width="3.12" height="3.18" fill="#3288bd"/><rect x="346.38" y="140.90" width="3.97" height="4.04" fill="#66c2a5"/><rect x="346.38" y="137.37" width="3.97" height="4.04" fill="#66c2a5"/><rect x="346.38" y="133.83" width="3.97" height="4.04" fill="#66c2a5"/><rect x="346.38" y="130.29" width="3.97" height="4.04" fill="#66c2a5"/><rect x="346.38" y="126.75" width="3.97" height="4.04" fill="#e6f598"/><rect x="346.38" y="123.21" width="3.97" height="4.04" fill="#66c2a5"/><rect x="346.38" y="119.68" width="3.97" height="4.04" fill="#4ca5b1"/><rect x="346.38" y="116.14" width="3.97" height="4.04" fill="#4ca5b1"/><rect x="346.80" y="113.03" width="3.12" height="3.18" fill="#3288bd"/><rect x="346.38" y="109.06" width="3.97" height="4.04" fill="#89d0a4"/><rect x="346.38" y="105.52" width="3.97" height="4.04" fill="#4ca5b1"/><rect x="346.80" y="102.41" width="3.12" height="3.18" fill="#5e4fa2"/><rect x="346.38" y="94.91" width="3.97" height="4.04" fill="#4ca5b1"/><rect x="346.80" y="88.26" width="3.12" height="3.18" fill="#5e4fa2"/><rect x="346.38" y="80.76" width="3.97" height="4.04" fill="#4ca5b1"/><rect x="346.80" y="77.65" width="3.12" height="3.18" fill="#5e4fa2"/><rect x="346.80" y="74.11" width="3.12" height="3.18" fill="#5e4fa2"/><rect x="346.80" y="70.57" width="3.12" height="3.18" fill="#3288bd"/><rect x="346.80" y="63.49" width="3.12" height="3.18" fill="#3288bd"/><rect x="346.80" y="59.96" width="3.12" height="3.18" fill="#3288bd"/><rect x="350.27" y="155.48" width="3.12" height="3.18" fill="#5e4fa2"/><rect x="350.27" y="151.94" width="3.12" height="3.18" fill="#5e4fa2"/><rect x="350.27" y="148.41" width="3.12" height="3.18" fill="#5e4fa2"/><rect x="349.85" y="144.44" width="3.97" height="4.04" fill="#66c2a5"/><rect x="349.85" y="140.90" width="3.97" height="4.04" fill="#66c2a5"/><rect x="350.27" y="137.79" width="3.12" height="3.18" fill="#3288bd"/><rect x="350.27" y="134.25" width="3.12" height="3.18" fill="#3288bd"/><rect x="350.27" y="130.72" width="3.12" height="3.18" fill="#3288bd"/><rect x="349.85" y="126.75" width="3.97" height="4.04" fill="#66c2a5"/><rect x="350.27" y="123.64" width="3.12" height="3.18" fill="#5e4fa2"/><rect x="350.27" y="120.10" width="3.12" height="3.18" fill="#5e4fa2"/><rect x="349.85" y="116.14" width="3.97" height="4.04" fill="#4ca5b1"/><rect x="349.85" y="112.60" width="3.97" height="4.04" fill="#89d0a4"/><rect x="349.85" y="109.06" width="3.97" height="4.04" fill="#c9e99e"/><rect x="349.85" y="105.52" width="3.97" height="4.04" fill="#89d0a4"/><rect x="350.27" y="102.41" width="3.12" height="3.18" fill="#5e4fa2"/><rect x="349.85" y="98.45" width="3.97" height="4.04" fill="#4ca5b1"/><rect x="350.27" y="95.34" width="3.12" height="3.18" fill="#3288bd"/><rect x="349.85" y="91.37" width="3.97" height="4.04" fill="#89d0a4"/><rect x="350.27" y="88.26" width="3.12" height="3.18" fill="#5e4fa2"/><rect x="350.27" y="84.72" width="3.12" height="3.18" fill="#5e4fa2"/><rect x="349.85" y="80.76" width="3.97" height="4.04" fill="#89d0a4"/><rect x="350.27" y="77.65" width="3.12" height="3.18" fill="#3288bd"/><rect x="350.27" y="74.11" width="3.12" height="3.18" fill="#3288bd"/><rect x="349.85" y="70.14" width="3.97" height="4.04" fill="#4ca5b1"/><rect x="350.27" y="67.03" width="3.12" height="3.18" fill="#5e4fa2"/><rect x="349.85" y="63.07" width="3.97" height="4.04" fill="#4ca5b1"/><rect x="350.27" y="59.96" width="3.12" height="3.18" fill="#5e4fa2"/><rect x="353.74" y="151.94" width="3.12" height="3.18" fill="#5e4fa2"/><rect x="353.74" y="144.87" width="3.12" height="3.18" fill="#3288bd"/><rect x="353.74" y="141.33" width="3.12" height="3.18" fill="#5e4fa2"/><rect x="353.32" y="137.37" width="3.97" height="4.04" fill="#66c2a5"/><rect x="353.74" y="134.25" width="3.12" height="3.18" fill="#3288bd"/><rect x="353.74" y="130.72" width="3.12" height="3.18" fill="#5e4fa2"/><rect x="353.74" y="127.18" width="3.12" height="3.18" fill="#3288bd"/><rect x="353.74" y="123.64" width="3.12" height="3.18" fill="#3288bd"/><rect x="353.74" y="120.10" width="3.12" height="3.18" fill="#3288bd"/><rect x="353.74" y="116.56" width="3.12" height="3.18" fill="#3288bd"/><rect x="353.32" y="112.60" width="3.97" height="4.04" fill="#c9e99e"/><rect x="353.74" y="109.49" width="3.12" height="3.18" fill="#3288bd"/><rect x="353.32" y="105.52" width="3.97" height="4.04" fill="#4ca5b1"/><rect x="353.32" y="101.99" width="3.97" height="4.04" fill="#89d0a4"/><rect x="353.32" y="98.45" width="3.97" height="4.04" fill="#89d0a4"/><rect x="353.32" y="91.37" width="3.97" height="4.04" fill="#4ca5b1"/><rect x="353.32" y="80.76" width="3.97" height="4.04" fill="#4ca5b1"/><rect x="353.32" y="77.22" width="3.97" height="4.04" fill="#4ca5b1"/><rect x="353.74" y="74.11" width="3.12" height="3.18" fill="#3288bd"/><rect x="353.74" y="70.57" width="3.12" height="3.18" fill="#5e4fa2"/><rect x="353.74" y="67.03" width="3.12" height="3.18" fill="#3288bd"/><rect x="353.74" y="63.49" width="3.12" height="3.18" fill="#3288bd"/><rect x="353.32" y="59.53" width="3.97" height="4.04" fill="#89d0a4"/><rect x="357.21" y="151.94" width="3.12" height="3.18" fill="#5e4fa2"/><rect x="357.21" y="144.87" width="3.12" height="3.18" fill="#3288bd"/><rect x="357.21" y="134.25" width="3.12" height="3.18" fill="#5e4fa2"/><rect x="357.21" y="130.72" width="3.12" height="3.18" fill="#3288bd"/><rect x="356.79" y="126.75" width="3.97" height="4.04" fill="#66c2a5"/><rect x="357.21" y="123.64" width="3.12" height="3.18" fill="#5e4fa2"/><rect x="357.21" y="120.10" width="3.12" height="3.18" fill="#5e4fa2"/><rect x="356.79" y="116.14" width="3.97" height="4.04" fill="#4ca5b1"/><rect x="356.79" y="112.60" width="3.97" height="4.04" fill="#4ca5b1"/><rect x="357.21" y="109.49" width="3.12" height="3.18" fill="#5e4fa2"/><rect x="357.21" y="102.41" width="3.12" height="3.18" fill="#5e4fa2"/><rect x="357.21" y="98.87" width="3.12" height="3.18" fill="#5e4fa2"/><rect x="356.79" y="94.91" width="3.97" height="4.04" fill="#4ca5b1"/><rect x="356.79" y="91.37" width="3.97" height="4.04" fill="#4ca5b1"/><rect x="357.21" y="88.26" width="3.12" height="3.18" fill="#3288bd"/><rect x="357.21" y="84.72" width="3.12" height="3.18" fill="#3288bd"/><rect x="356.79" y="80.76" width="3.97" height="4.04" fill="#89d0a4"/><rect x="356.79" y="77.22" width="3.97" height="4.04" fill="#4ca5b1"/><rect x="357.21" y="74.11" width="3.12" height="3.18" fill="#5e4fa2"/><rect x="356.79" y="70.14" width="3.97" height="4.04" fill="#4ca5b1"/><rect x="357.21" y="67.03" width="3.12" height="3.18" fill="#5e4fa2"/><rect x="357.21" y="63.49" width="3.12" height="3.18" fill="#5e4fa2"/><rect x="357.21" y="59.96" width="3.12" height="3.18" fill="#5e4fa2"/><rect x="361.14" y="141.77" width="2.20" height="2.30" fill="#5e4fa2"/><rect x="360.68" y="134.25" width="3.12" height="3.18" fill="#3288bd"/><rect x="360.68" y="130.72" width="3.12" height="3.18" fill="#3288bd"/><rect x="360.68" y="127.18" width="3.12" height="3.18" fill="#5e4fa2"/><rect x="360.68" y="123.64" width="3.12" height="3.18" fill="#3288bd"/><rect x="360.26" y="119.68" width="3.97" height="4.04" fill="#4ca5b1"/><rect x="360.68" y="116.56" width="3.12" height="3.18" fill="#5e4fa2"/><rect x="360.26" y="112.60" width="3.97" height="4.04" fill="#4ca5b1"/><rect x="360.68" y="109.49" width="3.12" height="3.18" fill="#5e4fa2"/><rect x="360.68" y="91.80" width="3.12" height="3.18" fill="#5e4fa2"/><rect x="360.26" y="87.83" width="3.97" height="4.04" fill="#c9e99e"/><rect x="360.26" y="84.30" width="3.97" height="4.04" fill="#4ca5b1"/><rect x="360.26" y="80.76" width="3.97" height="4.04" fill="#4ca5b1"/><rect x="360.26" y="77.22" width="3.97" height="4.04" fill="#4ca5b1"/><rect x="360.68" y="74.11" width="3.12" height="3.18" fill="#3288bd"/><rect x="364.62" y="152.39" width="2.20" height="2.30" fill="#5e4fa2"/><rect x="364.15" y="144.87" width="3.12" height="3.18" fill="#3288bd"/><rect x="364.15" y="134.25" width="3.12" height="3.18" fill="#5e4fa2"/><rect x="364.15" y="130.72" width="3.12" height="3.18" fill="#5e4fa2"/><rect x="364.15" y="127.18" width="3.12" height="3.18" fill="#3288bd"/><rect x="363.73" y="123.21" width="3.97" height="4.04" fill="#66c2a5"/><rect x="364.15" y="120.10" width="3.12" height="3.18" fill="#5e4fa2"/><rect x="364.15" y="113.03" width="3.12" height="3.18" fill="#3288bd"/><rect x="364.15" y="91.80" width="3.12" height="3.18" fill="#5e4fa2"/><rect x="364.15" y="88.26" width="3.12" height="3.18" fill="#3288bd"/><rect x="363.73" y="84.30" width="3.97" height="4.04" fill="#4ca5b1"/><rect x="364.15" y="81.18" width="3.12" height="3.18" fill="#3288bd"/><rect x="364.15" y="77.65" width="3.12" height="3.18" fill="#5e4fa2"/><rect x="367.20" y="144.44" width="3.97" height="4.04" fill="#66c2a5"/><rect x="367.62" y="127.18" width="3.12" height="3.18" fill="#5e4fa2"/><rect x="367.62" y="123.64" width="3.12" height="3.18" fill="#3288bd"/><rect x="367.62" y="120.10" width="3.12" height="3.18" fill="#3288bd"/><rect x="367.62" y="113.03" width="3.12" height="3.18" fill="#5e4fa2"/><rect x="367.62" y="88.26" width="3.12" height="3.18" fill="#3288bd"/><rect x="367.62" y="77.65" width="3.12" height="3.18" fill="#5e4fa2"/><rect x="371.55" y="152.39" width="2.20" height="2.30" fill="#5e4fa2"/><rect x="371.09" y="123.64" width="3.12" height="3.18" fill="#5e4fa2"/><rect x="371.55" y="67.47" width="2.20" height="2.30" fill="#5e4fa2"/><rect x="375.02" y="159.46" width="2.20" height="2.30" fill="#5e4fa2"/><rect x="374.56" y="127.18" width="3.12" height="3.18" fill="#5e4fa2"/><rect x="374.14" y="123.21" width="3.97" height="4.04" fill="#66c2a5"/><rect x="374.56" y="120.10" width="3.12" height="3.18" fill="#3288bd"/><rect x="378.50" y="134.70" width="2.20" height="2.30" fill="#5e4fa2"/><rect x="378.03" y="127.18" width="3.12" height="3.18" fill="#5e4fa2"/><rect x="378.03" y="123.64" width="3.12" height="3.18" fill="#3288bd"/><rect x="381.96" y="159.46" width="2.20" height="2.30" fill="#5e4fa2"/><rect x="381.50" y="151.94" width="3.12" height="3.18" fill="#5e4fa2"/><rect x="381.96" y="145.31" width="2.20" height="2.30" fill="#5e4fa2"/><rect x="385.44" y="163.00" width="2.20" height="2.30" fill="#5e4fa2"/><rect x="384.97" y="151.94" width="3.12" height="3.18" fill="#5e4fa2"/><rect x="385.44" y="134.70" width="2.20" height="2.30" fill="#5e4fa2"/><rect x="388.90" y="145.31" width="2.20" height="2.30" fill="#3288bd"/><rect x="388.90" y="131.16" width="2.20" height="2.30" fill="#5e4fa2"/><rect x="395.84" y="152.39" width="2.20" height="2.30" fill="#5e4fa2"/><rect x="399.31" y="145.31" width="2.20" height="2.30" fill="#5e4fa2"/><rect x="405.79" y="144.87" width="3.12" height="3.18" fill="#5e4fa2"/><rect x="409.26" y="144.87" width="3.12" height="3.18" fill="#5e4fa2"/><rect x="412.73" y="144.87" width="3.12" height="3.18" fill="#5e4fa2"/><rect x="416.20" y="144.87" width="3.12" height="3.18" fill="#5e4fa2"/><rect x="416.66" y="131.16" width="2.20" height="2.30" fill="#5e4fa2"/><rect x="420.13" y="152.39" width="2.20" height="2.30" fill="#5e4fa2"/><rect x="423.61" y="145.31" width="2.20" height="2.30" fill="#5e4fa2"/><rect x="427.07" y="152.39" width="2.20" height="2.30" fill="#5e4fa2"/></g>
<line x1="280.70" y1="201.30" x2="404.63" y2="24.40" stroke="#ff1f1f" stroke-width="1.15"/>
<rect x="280.70" y="24.40" width="173.50" height="176.90" fill="none" stroke="#555" stroke-width="0.8"/>
<line x1="280.70" y1="201.30" x2="280.70" y2="204.50" stroke="#555" stroke-width="0.7"/>
<text x="280.70" y="211.9" class="tl" text-anchor="middle">0</text>
<line x1="285.66" y1="201.30" x2="285.66" y2="203.30" stroke="#555" stroke-width="0.7"/>
<line x1="290.61" y1="201.30" x2="290.61" y2="203.30" stroke="#555" stroke-width="0.7"/>
<line x1="295.57" y1="201.30" x2="295.57" y2="203.30" stroke="#555" stroke-width="0.7"/>
<line x1="300.53" y1="201.30" x2="300.53" y2="203.30" stroke="#555" stroke-width="0.7"/>
<line x1="305.49" y1="201.30" x2="305.49" y2="204.50" stroke="#555" stroke-width="0.7"/>
<text x="305.49" y="211.9" class="tl" text-anchor="middle">100</text>
<line x1="310.44" y1="201.30" x2="310.44" y2="203.30" stroke="#555" stroke-width="0.7"/>
<line x1="315.40" y1="201.30" x2="315.40" y2="203.30" stroke="#555" stroke-width="0.7"/>
<line x1="320.36" y1="201.30" x2="320.36" y2="203.30" stroke="#555" stroke-width="0.7"/>
<line x1="325.31" y1="201.30" x2="325.31" y2="203.30" stroke="#555" stroke-width="0.7"/>
<line x1="330.27" y1="201.30" x2="330.27" y2="204.50" stroke="#555" stroke-width="0.7"/>
<text x="330.27" y="211.9" class="tl" text-anchor="middle">200</text>
<line x1="335.23" y1="201.30" x2="335.23" y2="203.30" stroke="#555" stroke-width="0.7"/>
<line x1="340.19" y1="201.30" x2="340.19" y2="203.30" stroke="#555" stroke-width="0.7"/>
<line x1="345.14" y1="201.30" x2="345.14" y2="203.30" stroke="#555" stroke-width="0.7"/>
<line x1="350.10" y1="201.30" x2="350.10" y2="203.30" stroke="#555" stroke-width="0.7"/>
<line x1="355.06" y1="201.30" x2="355.06" y2="204.50" stroke="#555" stroke-width="0.7"/>
<text x="355.06" y="211.9" class="tl" text-anchor="middle">300</text>
<line x1="360.01" y1="201.30" x2="360.01" y2="203.30" stroke="#555" stroke-width="0.7"/>
<line x1="364.97" y1="201.30" x2="364.97" y2="203.30" stroke="#555" stroke-width="0.7"/>
<line x1="369.93" y1="201.30" x2="369.93" y2="203.30" stroke="#555" stroke-width="0.7"/>
<line x1="374.89" y1="201.30" x2="374.89" y2="203.30" stroke="#555" stroke-width="0.7"/>
<line x1="379.84" y1="201.30" x2="379.84" y2="204.50" stroke="#555" stroke-width="0.7"/>
<text x="379.84" y="211.9" class="tl" text-anchor="middle">400</text>
<line x1="384.80" y1="201.30" x2="384.80" y2="203.30" stroke="#555" stroke-width="0.7"/>
<line x1="389.76" y1="201.30" x2="389.76" y2="203.30" stroke="#555" stroke-width="0.7"/>
<line x1="394.71" y1="201.30" x2="394.71" y2="203.30" stroke="#555" stroke-width="0.7"/>
<line x1="399.67" y1="201.30" x2="399.67" y2="203.30" stroke="#555" stroke-width="0.7"/>
<line x1="404.63" y1="201.30" x2="404.63" y2="204.50" stroke="#555" stroke-width="0.7"/>
<text x="404.63" y="211.9" class="tl" text-anchor="middle">500</text>
<line x1="409.59" y1="201.30" x2="409.59" y2="203.30" stroke="#555" stroke-width="0.7"/>
<line x1="414.54" y1="201.30" x2="414.54" y2="203.30" stroke="#555" stroke-width="0.7"/>
<line x1="419.50" y1="201.30" x2="419.50" y2="203.30" stroke="#555" stroke-width="0.7"/>
<line x1="424.46" y1="201.30" x2="424.46" y2="203.30" stroke="#555" stroke-width="0.7"/>
<line x1="429.41" y1="201.30" x2="429.41" y2="204.50" stroke="#555" stroke-width="0.7"/>
<text x="429.41" y="211.9" class="tl" text-anchor="middle">600</text>
<line x1="434.37" y1="201.30" x2="434.37" y2="203.30" stroke="#555" stroke-width="0.7"/>
<line x1="439.33" y1="201.30" x2="439.33" y2="203.30" stroke="#555" stroke-width="0.7"/>
<line x1="444.29" y1="201.30" x2="444.29" y2="203.30" stroke="#555" stroke-width="0.7"/>
<line x1="449.24" y1="201.30" x2="449.24" y2="203.30" stroke="#555" stroke-width="0.7"/>
<line x1="454.20" y1="201.30" x2="454.20" y2="204.50" stroke="#555" stroke-width="0.7"/>
<text x="454.20" y="211.9" class="tl" text-anchor="middle">700</text>
<line x1="280.70" y1="201.30" x2="277.30" y2="201.30" stroke="#555" stroke-width="0.7"/>
<text x="275.40" y="204.10" class="tl" text-anchor="end">0</text>
<line x1="280.70" y1="194.22" x2="278.70" y2="194.22" stroke="#555" stroke-width="0.7"/>
<line x1="280.70" y1="187.15" x2="278.70" y2="187.15" stroke="#555" stroke-width="0.7"/>
<line x1="280.70" y1="180.07" x2="278.70" y2="180.07" stroke="#555" stroke-width="0.7"/>
<line x1="280.70" y1="173.00" x2="278.70" y2="173.00" stroke="#555" stroke-width="0.7"/>
<line x1="280.70" y1="165.92" x2="277.30" y2="165.92" stroke="#555" stroke-width="0.7"/>
<text x="275.40" y="168.72" class="tl" text-anchor="end">100</text>
<line x1="280.70" y1="158.84" x2="278.70" y2="158.84" stroke="#555" stroke-width="0.7"/>
<line x1="280.70" y1="151.77" x2="278.70" y2="151.77" stroke="#555" stroke-width="0.7"/>
<line x1="280.70" y1="144.69" x2="278.70" y2="144.69" stroke="#555" stroke-width="0.7"/>
<line x1="280.70" y1="137.62" x2="278.70" y2="137.62" stroke="#555" stroke-width="0.7"/>
<line x1="280.70" y1="130.54" x2="277.30" y2="130.54" stroke="#555" stroke-width="0.7"/>
<text x="275.40" y="133.34" class="tl" text-anchor="end">200</text>
<line x1="280.70" y1="123.46" x2="278.70" y2="123.46" stroke="#555" stroke-width="0.7"/>
<line x1="280.70" y1="116.39" x2="278.70" y2="116.39" stroke="#555" stroke-width="0.7"/>
<line x1="280.70" y1="109.31" x2="278.70" y2="109.31" stroke="#555" stroke-width="0.7"/>
<line x1="280.70" y1="102.24" x2="278.70" y2="102.24" stroke="#555" stroke-width="0.7"/>
<line x1="280.70" y1="95.16" x2="277.30" y2="95.16" stroke="#555" stroke-width="0.7"/>
<text x="275.40" y="97.96" class="tl" text-anchor="end">300</text>
<line x1="280.70" y1="88.08" x2="278.70" y2="88.08" stroke="#555" stroke-width="0.7"/>
<line x1="280.70" y1="81.01" x2="278.70" y2="81.01" stroke="#555" stroke-width="0.7"/>
<line x1="280.70" y1="73.93" x2="278.70" y2="73.93" stroke="#555" stroke-width="0.7"/>
<line x1="280.70" y1="66.86" x2="278.70" y2="66.86" stroke="#555" stroke-width="0.7"/>
<line x1="280.70" y1="59.78" x2="277.30" y2="59.78" stroke="#555" stroke-width="0.7"/>
<text x="275.40" y="62.58" class="tl" text-anchor="end">400</text>
<line x1="280.70" y1="52.70" x2="278.70" y2="52.70" stroke="#555" stroke-width="0.7"/>
<line x1="280.70" y1="45.63" x2="278.70" y2="45.63" stroke="#555" stroke-width="0.7"/>
<line x1="280.70" y1="38.55" x2="278.70" y2="38.55" stroke="#555" stroke-width="0.7"/>
<line x1="280.70" y1="31.48" x2="278.70" y2="31.48" stroke="#555" stroke-width="0.7"/>
<line x1="280.70" y1="24.40" x2="277.30" y2="24.40" stroke="#555" stroke-width="0.7"/>
<text x="275.40" y="27.20" class="tl" text-anchor="end">500</text>
<text x="294.80" y="11" class="tt">UFS-RAQMS v9.1 DA/Insitu CO (Diskin)</text>
<text x="280.50" y="19.9" class="tt" font-weight="bold">(b)</text>
<text x="296.62" y="19.9" class="tt">7/24-9/5, 2019</text>
<text x="282.30" y="38.6" class="an">r = 0.8129</text>
<text x="282.30" y="48.6" class="an">bias (mod-obs) = 6.3ppbv</text>
<text x="367.45" y="221.9" class="at" text-anchor="middle">DC8 CO (ppbv)</text>
<text transform="translate(258.70,112.7) rotate(-90)" class="at" text-anchor="middle" style="font-size:7.37px">UFS-RAQMS TROPOMI DA CO (ppbv)</text>
<rect x="464.30" y="192.830" width="12.00" height="8.670" fill="#5e4fa2"/>
<rect x="464.30" y="184.460" width="12.00" height="8.670" fill="#486cb0"/>
<rect x="464.30" y="176.090" width="12.00" height="8.670" fill="#3288bd"/>
<rect x="464.30" y="167.720" width="12.00" height="8.670" fill="#4ca5b1"/>
<rect x="464.30" y="159.350" width="12.00" height="8.670" fill="#66c2a5"/>
<rect x="464.30" y="150.980" width="12.00" height="8.670" fill="#89d0a4"/>
<rect x="464.30" y="142.610" width="12.00" height="8.670" fill="#abdda4"/>
<rect x="464.30" y="134.240" width="12.00" height="8.670" fill="#c9e99e"/>
<rect x="464.30" y="125.870" width="12.00" height="8.670" fill="#e6f598"/>
<rect x="464.30" y="117.500" width="12.00" height="8.670" fill="#f3faac"/>
<rect x="464.30" y="109.130" width="12.00" height="8.670" fill="#ffffbf"/>
<rect x="464.30" y="100.760" width="12.00" height="8.670" fill="#fef0a5"/>
<rect x="464.30" y="92.390" width="12.00" height="8.670" fill="#fee08b"/>
<rect x="464.30" y="84.020" width="12.00" height="8.670" fill="#fec776"/>
<rect x="464.30" y="75.650" width="12.00" height="8.670" fill="#fdae61"/>
<rect x="464.30" y="67.280" width="12.00" height="8.670" fill="#f98e52"/>
<rect x="464.30" y="58.910" width="12.00" height="8.670" fill="#f46d43"/>
<rect x="464.30" y="50.540" width="12.00" height="8.670" fill="#e45649"/>
<rect x="464.30" y="42.170" width="12.00" height="8.670" fill="#d53e4f"/>
<rect x="464.30" y="33.800" width="12.00" height="8.670" fill="#ba2048"/>
<polygon points="464.30,34.10 476.30,34.10 470.30,24.00" fill="#9e0142"/>
<polygon points="464.30,201.50 464.30,34.10 470.30,24.00 476.30,34.10 476.30,201.50" fill="none" stroke="#555" stroke-width="0.7"/>
<line x1="476.30" y1="201.50" x2="479.50" y2="201.50" stroke="#555" stroke-width="0.7"/>
<text x="480.70" y="204.30" class="tl">0</text>
<line x1="476.30" y1="159.65" x2="479.50" y2="159.65" stroke="#555" stroke-width="0.7"/>
<text x="480.70" y="162.45" class="tl">1</text>
<line x1="476.30" y1="117.80" x2="479.50" y2="117.80" stroke="#555" stroke-width="0.7"/>
<text x="480.70" y="120.60" class="tl">2</text>
<line x1="476.30" y1="75.95" x2="479.50" y2="75.95" stroke="#555" stroke-width="0.7"/>
<text x="480.70" y="78.75" class="tl">3</text>
<line x1="476.30" y1="34.10" x2="479.50" y2="34.10" stroke="#555" stroke-width="0.7"/>
<text x="480.70" y="36.90" class="tl">4</text>
<text transform="translate(494.10,113.2) rotate(-90)" class="at" text-anchor="middle">log(count)</text>
</svg></body></html>
